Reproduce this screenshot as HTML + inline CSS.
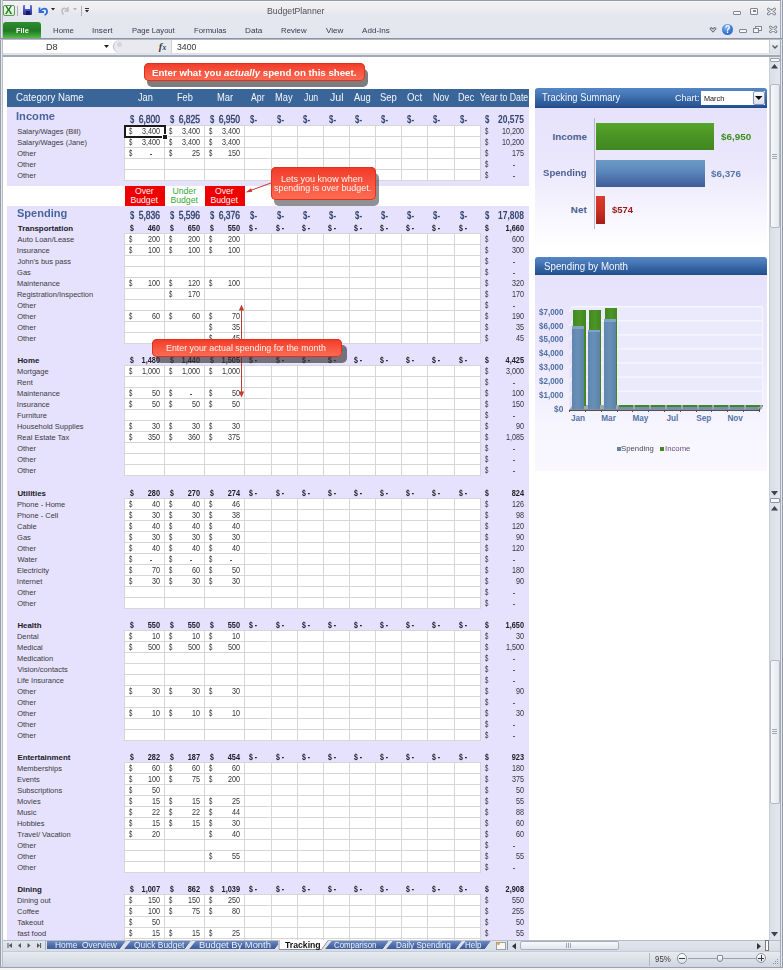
<!DOCTYPE html>
<html><head><meta charset="utf-8"><title>BudgetPlanner</title>
<style>
html,body{margin:0;padding:0;}
body{width:783px;height:970px;position:relative;overflow:hidden;font-family:"Liberation Sans",sans-serif;background:#fff;}
.a{position:absolute;box-sizing:border-box;}
.t{position:absolute;width:300px;white-space:nowrap;}
svg{overflow:visible;}
</style></head><body>
<div class="a" style="left:0.0px;top:0.0px;width:783.0px;height:970.0px;background:#dde2ea;"></div>
<div class="a" style="left:0.0px;top:0.0px;width:783.0px;height:38.0px;background:linear-gradient(#f1f1f3 0px,#eeedf0 9px,#e9e9ee 12px,#e5e7ef 15px,#e4e6ef 38px);"></div>
<div class="a" style="left:0.0px;top:1.0px;width:783.0px;height:1.0px;background:#f8f8fa;"></div>
<div class="a" style="left:0.0px;top:0.0px;width:783.0px;height:1.0px;background:#969ca7;"></div>
<div class="a" style="left:0.0px;top:0.0px;width:1.0px;height:970.0px;background:#959ca7;"></div>
<div class="a" style="left:1.0px;top:0.0px;width:1.0px;height:970.0px;background:#e6e9ee;"></div>
<div class="a" style="left:2.0px;top:0.0px;width:1.0px;height:970.0px;background:#b8bec6;"></div>
<div class="a" style="left:780.0px;top:0.0px;width:1.0px;height:970.0px;background:#a3aab5;"></div>
<div class="a" style="left:781.0px;top:0.0px;width:1.0px;height:970.0px;background:#e6e9ee;"></div>
<div class="a" style="left:782.0px;top:0.0px;width:1.0px;height:970.0px;background:#959ca7;"></div>
<div class="a" style="left:0.0px;top:38.0px;width:783.0px;height:1.0px;background:#8e949f;"></div>
<div class="a" style="left:0.0px;top:39.0px;width:783.0px;height:1.0px;background:#b4bac4;"></div>
<div class="a" style="left:3px;top:5px;width:12px;height:11px;border:1px solid #5c9a55;border-radius:2px;background:linear-gradient(#f6fbf3,#d7ead0);"></div>
<div class="t" style="left:5.39px;top:0px;height:21px;line-height:21px;font-size:10.14px;color:#1f7f1f;font-weight:bold;transform:scaleX(1.062);transform-origin:left;">X</div>
<div class="a" style="left:17.0px;top:6.0px;width:1.0px;height:10.0px;background:#a9aeb8;"></div>
<div class="a" style="left:23px;top:5px;width:9px;height:10px;background:linear-gradient(#6a72e0,#2b309a);border-radius:1px;"></div>
<div class="a" style="left:25.0px;top:5.0px;width:5.0px;height:4.0px;background:#eef0ff;"></div>
<div class="a" style="left:25.5px;top:11.0px;width:4.0px;height:4.0px;background:#14175a;"></div>
<svg class="a" style="left:37px;top:5px" width="12" height="11" viewBox="0 0 12 11"><path d="M2.5 2.5 L2.5 7 L7 7" stroke="#2d6cd6" stroke-width="1.8" fill="none"/><path d="M3 6.5 C5 3,9.5 2.5,10 6 C10.3 8,9 9.5,7.5 10" stroke="#2d6cd6" stroke-width="1.8" fill="none"/></svg>
<svg class="a" style="left:51px;top:8px" width="4" height="3"><path d="M0 0 L4 0 L2 2.5 Z" fill="#222"/></svg>
<svg class="a" style="left:60px;top:5px" width="10" height="11" viewBox="0 0 10 11"><path d="M8 2 L8 6 L4.5 6" stroke="#b8bcc6" stroke-width="1.5" fill="none"/><path d="M7.5 5.5 C6.5 2.5,2.5 2.5,2 5.5 C1.8 7.5,2.5 8.5,3.5 9.5" stroke="#b8bcc6" stroke-width="1.5" fill="none"/></svg>
<svg class="a" style="left:73px;top:8px" width="4" height="3"><path d="M0 0 L4 0 L2 2.5 Z" fill="#b0b4bc"/></svg>
<div class="a" style="left:81.0px;top:6.0px;width:1.0px;height:10.0px;background:#a9aeb8;"></div>
<div class="a" style="left:85.0px;top:8.0px;width:4.0px;height:1.0px;background:#333;"></div>
<svg class="a" style="left:85px;top:10px" width="4" height="3"><path d="M0 0 L4 0 L2 2.5 Z" fill="#222"/></svg>
<div class="t" style="left:266.9px;top:3px;height:17px;line-height:17px;font-size:8.41px;color:#50505a;transform:scaleX(1.034);transform-origin:left;">BudgetPlanner</div>
<div class="a" style="left:733px;top:11px;width:8px;height:4px;border:1px solid #80868f;border-radius:1px;background:#f6f7f9;"></div>
<div class="a" style="left:750px;top:8px;width:8px;height:7px;border:1px solid #80868f;border-radius:1px;background:#f6f7f9;"></div>
<div class="a" style="left:752.5px;top:10.0px;width:3.0px;height:2.0px;border:1px solid #80868f;"></div>
<svg class="a" style="left:767px;top:8px" width="9" height="7"><path d="M1.5 1.2 L7.5 5.8 M7.5 1.2 L1.5 5.8" stroke="#7a808b" stroke-width="3" stroke-linecap="round"/><path d="M1.5 1.2 L7.5 5.8 M7.5 1.2 L1.5 5.8" stroke="#f4f5f8" stroke-width="1.1" stroke-linecap="round"/></svg>
<div class="a" style="left:3px;top:22px;width:38px;height:16px;border-radius:3px 3px 0 0;background:linear-gradient(#2f8d31,#1f7a22 55%,#3fa53a 85%,#5cbb45);"></div>
<div class="t" style="left:15.52px;top:24px;height:14px;line-height:14px;font-size:6.9px;color:#f6fff2;font-weight:bold;transform:scaleX(1.079);transform-origin:left;">File</div>
<div class="t" style="left:52.77px;top:23px;height:16px;line-height:16px;font-size:7.7px;color:#3a3a48;transform:scaleX(1.021);transform-origin:left;">Home</div>
<div class="t" style="left:92.16px;top:23px;height:16px;line-height:16px;font-size:7.7px;color:#3a3a48;transform:scaleX(1.064);transform-origin:left;">Insert</div>
<div class="t" style="left:131.89px;top:23px;height:16px;line-height:16px;font-size:7.7px;color:#3a3a48;transform:scaleX(0.989);transform-origin:left;">Page Layout</div>
<div class="t" style="left:193.88px;top:23px;height:16px;line-height:16px;font-size:7.7px;color:#3a3a48;transform:scaleX(1.009);transform-origin:left;">Formulas</div>
<div class="t" style="left:245.15px;top:23px;height:16px;line-height:16px;font-size:7.7px;color:#3a3a48;transform:scaleX(1.062);transform-origin:left;">Data</div>
<div class="t" style="left:280.98px;top:23px;height:16px;line-height:16px;font-size:7.7px;color:#3a3a48;transform:scaleX(1.015);transform-origin:left;">Review</div>
<div class="t" style="left:325.76px;top:23px;height:16px;line-height:16px;font-size:7.7px;color:#3a3a48;transform:scaleX(1.053);transform-origin:left;">View</div>
<div class="t" style="left:362.0px;top:23px;height:16px;line-height:16px;font-size:7.7px;color:#3a3a48;transform:scaleX(1.051);transform-origin:left;">Add-Ins</div>
<svg class="a" style="left:709px;top:27px" width="8" height="6"><path d="M0.8 1.5 L4 5 L7.2 1.5 M0.8 1.5 L2.4 0.6 L4 2 L5.6 0.6 L7.2 1.5" stroke="#6c717c" stroke-width="1.1" fill="none"/></svg>
<div class="a" style="left:722px;top:24px;width:11px;height:11px;border-radius:50%;background:radial-gradient(circle at 40% 30%,#8cbaf2,#3a78d2 55%,#2559b0);"></div>
<div class="t" style="left:724.9px;top:19px;height:21px;line-height:21px;font-size:10.29px;color:#ffffff;font-weight:bold;transform:scaleX(0.857);transform-origin:left;">?</div>
<div class="a" style="left:739px;top:29px;width:8px;height:4px;border:1px solid #80868f;border-radius:1px;background:#f6f7f9;"></div>
<div class="a" style="left:755px;top:26px;width:7px;height:5px;border:1px solid #80868f;background:#f6f7f9;"></div>
<div class="a" style="left:753px;top:28px;width:6px;height:5px;border:1px solid #80868f;background:#f6f7f9;"></div>
<svg class="a" style="left:769px;top:26px" width="8" height="7"><path d="M1.5 1.2 L6.8 5.6 M6.8 1.2 L1.5 5.6" stroke="#7a808b" stroke-width="3" stroke-linecap="round"/><path d="M1.5 1.2 L6.8 5.6 M6.8 1.2 L1.5 5.6" stroke="#f4f5f8" stroke-width="1.1" stroke-linecap="round"/></svg>
<div class="a" style="left:3.0px;top:40.0px;width:777.0px;height:13.0px;background:#ffffff;"></div>
<div class="a" style="left:3.0px;top:53.0px;width:777.0px;height:2.0px;background:#dde0e6;"></div>
<div class="a" style="left:3.0px;top:54.0px;width:777.0px;height:1.0px;background:#e3e5f2;"></div>
<div class="a" style="left:3.0px;top:55.0px;width:777.0px;height:2.0px;background:#a3a9b3;"></div>
<div class="t" style="left:45.77px;top:38px;height:19px;line-height:19px;font-size:9.29px;color:#333;transform:scaleX(0.979);transform-origin:left;">D8</div>
<svg class="a" style="left:104px;top:45px" width="5" height="3"><path d="M0 0 L5 0 L2.5 3 Z" fill="#222"/></svg>
<div class="a" style="left:113px;top:40px;width:59px;height:13px;background:#e8eaf0;border-radius:7px 0 0 7px;border-left:1px solid #b5bac4;"></div>
<div class="a" style="left:117px;top:42px;width:5px;height:5px;border-radius:50%;background:#d3d6de;"></div>
<div class="a" style="left:171.0px;top:40.0px;width:1.0px;height:13.0px;background:#cdd1d8;"></div>
<div class="t" style="left:158.8px;top:36px;height:21px;line-height:21px;font-size:10.5px;color:#3a3a3a;font-weight:bold;font-family:'Liberation Serif',serif;"><i>f</i></div>
<div class="t" style="left:162.6px;top:40px;height:15px;line-height:15px;font-size:7.5px;color:#3a3a3a;font-weight:bold;font-family:'Liberation Serif',serif;"><i>x</i></div>
<div class="t" style="left:176.65px;top:37px;height:20px;line-height:20px;font-size:9.6px;color:#333;transform:scaleX(0.906);transform-origin:left;">3400</div>
<div class="a" style="left:769.0px;top:40.0px;width:11.0px;height:13.0px;background:linear-gradient(#eef0f4,#dce0e7);border-left:1px solid #c5cad3;"></div>
<svg class="a" style="left:772px;top:45px" width="6" height="4"><path d="M0.5 0.5 L3 3 L5.5 0.5" stroke="#555" stroke-width="1.3" fill="none"/></svg>
<div class="a" style="left:3.0px;top:57.0px;width:766.0px;height:883.0px;background:#ffffff;"></div>
<div class="a" style="left:7.0px;top:107.0px;width:522.0px;height:833.0px;background:#e6e2fe;"></div>
<div class="a" style="left:7.0px;top:186.0px;width:522.0px;height:20.0px;background:#ffffff;"></div>
<div class="a" style="left:7.0px;top:89.0px;width:522.0px;height:18.0px;background:#3a6599;"></div>
<div class="t" style="left:15.62px;top:87px;height:21px;line-height:21px;font-size:10.43px;color:#f3f6fb;transform:scaleX(0.928);transform-origin:left;">Category Name</div>
<div class="t" style="left:138.06px;top:86px;height:22px;line-height:22px;font-size:10.58px;color:#f3f6fb;transform:scaleX(0.865);transform-origin:left;">Jan</div>
<div class="t" style="left:176.96px;top:87px;height:21px;line-height:21px;font-size:10.07px;color:#f3f6fb;transform:scaleX(0.912);transform-origin:left;">Feb</div>
<div class="t" style="left:217.15px;top:86px;height:22px;line-height:22px;font-size:10.58px;color:#f3f6fb;transform:scaleX(0.890);transform-origin:left;">Mar</div>
<div class="t" style="left:251.4px;top:86px;height:22px;line-height:22px;font-size:10.58px;color:#f3f6fb;transform:scaleX(0.822);transform-origin:left;">Apr</div>
<div class="t" style="left:274.75px;top:86px;height:22px;line-height:22px;font-size:10.58px;color:#f3f6fb;transform:scaleX(0.883);transform-origin:left;">May</div>
<div class="t" style="left:303.57px;top:86px;height:22px;line-height:22px;font-size:10.58px;color:#f3f6fb;transform:scaleX(0.828);transform-origin:left;">Jun</div>
<div class="t" style="left:329.84px;top:87px;height:21px;line-height:21px;font-size:10.07px;color:#f3f6fb;transform:scaleX(1.055);transform-origin:left;">Jul</div>
<div class="t" style="left:354.2px;top:86px;height:22px;line-height:22px;font-size:10.58px;color:#f3f6fb;transform:scaleX(0.887);transform-origin:left;">Aug</div>
<div class="t" style="left:380.17px;top:87px;height:21px;line-height:21px;font-size:10.43px;color:#f3f6fb;transform:scaleX(0.911);transform-origin:left;">Sep</div>
<div class="t" style="left:406.96px;top:87px;height:21px;line-height:21px;font-size:10.43px;color:#f3f6fb;transform:scaleX(0.930);transform-origin:left;">Oct</div>
<div class="t" style="left:432.78px;top:86px;height:22px;line-height:22px;font-size:10.58px;color:#f3f6fb;transform:scaleX(0.853);transform-origin:left;">Nov</div>
<div class="t" style="left:458.47px;top:86px;height:22px;line-height:22px;font-size:10.58px;color:#f3f6fb;transform:scaleX(0.863);transform-origin:left;">Dec</div>
<div class="t" style="left:480.18px;top:86px;height:22px;line-height:22px;font-size:10.58px;color:#f3f6fb;transform:scaleX(0.825);transform-origin:left;">Year to Date</div>
<div class="t" style="left:16.07px;top:105px;height:23px;line-height:23px;font-size:11.45px;color:#4a65a0;font-weight:bold;transform:scaleX(0.975);transform-origin:left;">Income</div>
<div class="t" style="left:129.68px;top:108px;height:22px;line-height:22px;font-size:10.8px;color:#34466f;font-weight:bold;transform:scaleX(0.720);transform-origin:left;">$</div>
<div class="t" style="left:-140.28px;top:109px;height:21px;line-height:21px;font-size:10.4px;color:#34466f;text-align:right;transform:scaleX(0.820);transform-origin:right;-webkit-text-stroke:0.45px #34466f;">6,800</div>
<div class="t" style="left:169.68px;top:108px;height:22px;line-height:22px;font-size:10.8px;color:#34466f;font-weight:bold;transform:scaleX(0.720);transform-origin:left;">$</div>
<div class="t" style="left:-100.24px;top:109px;height:21px;line-height:21px;font-size:10.4px;color:#34466f;text-align:right;transform:scaleX(0.820);transform-origin:right;-webkit-text-stroke:0.45px #34466f;">6,825</div>
<div class="t" style="left:209.68px;top:108px;height:22px;line-height:22px;font-size:10.8px;color:#34466f;font-weight:bold;transform:scaleX(0.720);transform-origin:left;">$</div>
<div class="t" style="left:-60.28px;top:109px;height:21px;line-height:21px;font-size:10.4px;color:#34466f;text-align:right;transform:scaleX(0.820);transform-origin:right;-webkit-text-stroke:0.45px #34466f;">6,950</div>
<div class="t" style="left:249.68px;top:109px;height:21px;line-height:21px;font-size:10.5px;color:#34466f;font-weight:bold;transform:scaleX(0.750);transform-origin:left;">$-</div>
<div class="t" style="left:276.68px;top:109px;height:21px;line-height:21px;font-size:10.5px;color:#34466f;font-weight:bold;transform:scaleX(0.750);transform-origin:left;">$-</div>
<div class="t" style="left:302.68px;top:109px;height:21px;line-height:21px;font-size:10.5px;color:#34466f;font-weight:bold;transform:scaleX(0.750);transform-origin:left;">$-</div>
<div class="t" style="left:328.68px;top:109px;height:21px;line-height:21px;font-size:10.5px;color:#34466f;font-weight:bold;transform:scaleX(0.750);transform-origin:left;">$-</div>
<div class="t" style="left:354.68px;top:109px;height:21px;line-height:21px;font-size:10.5px;color:#34466f;font-weight:bold;transform:scaleX(0.750);transform-origin:left;">$-</div>
<div class="t" style="left:380.68px;top:109px;height:21px;line-height:21px;font-size:10.5px;color:#34466f;font-weight:bold;transform:scaleX(0.750);transform-origin:left;">$-</div>
<div class="t" style="left:406.68px;top:109px;height:21px;line-height:21px;font-size:10.5px;color:#34466f;font-weight:bold;transform:scaleX(0.750);transform-origin:left;">$-</div>
<div class="t" style="left:432.68px;top:109px;height:21px;line-height:21px;font-size:10.5px;color:#34466f;font-weight:bold;transform:scaleX(0.750);transform-origin:left;">$-</div>
<div class="t" style="left:459.68px;top:109px;height:21px;line-height:21px;font-size:10.5px;color:#34466f;font-weight:bold;transform:scaleX(0.750);transform-origin:left;">$-</div>
<div class="t" style="left:484.88px;top:109px;height:21px;line-height:21px;font-size:10.5px;color:#34466f;font-weight:bold;transform:scaleX(0.750);transform-origin:left;">$</div>
<div class="t" style="left:224.0px;top:108px;height:22px;line-height:22px;font-size:10.6px;color:#34466f;font-weight:bold;text-align:right;transform:scaleX(0.800);transform-origin:right;">20,575</div>
<div class="a" style="left:124.0px;top:125.0px;width:357.0px;height:56.0px;background:#ffffff;"></div>
<div class="a" style="left:124.0px;top:125.0px;width:357.0px;height:1.0px;background:#d6d6d6;"></div>
<div class="a" style="left:124.0px;top:136.0px;width:357.0px;height:1.0px;background:#d6d6d6;"></div>
<div class="a" style="left:124.0px;top:147.0px;width:357.0px;height:1.0px;background:#d6d6d6;"></div>
<div class="a" style="left:124.0px;top:158.0px;width:357.0px;height:1.0px;background:#d6d6d6;"></div>
<div class="a" style="left:124.0px;top:169.0px;width:357.0px;height:1.0px;background:#d6d6d6;"></div>
<div class="a" style="left:124.0px;top:180.0px;width:357.0px;height:1.0px;background:#d6d6d6;"></div>
<div class="a" style="left:124.0px;top:125.0px;width:1.0px;height:56.0px;background:#d6d6d6;"></div>
<div class="a" style="left:164.0px;top:125.0px;width:1.0px;height:56.0px;background:#d6d6d6;"></div>
<div class="a" style="left:204.0px;top:125.0px;width:1.0px;height:56.0px;background:#d6d6d6;"></div>
<div class="a" style="left:244.0px;top:125.0px;width:1.0px;height:56.0px;background:#d6d6d6;"></div>
<div class="a" style="left:271.0px;top:125.0px;width:1.0px;height:56.0px;background:#d6d6d6;"></div>
<div class="a" style="left:297.0px;top:125.0px;width:1.0px;height:56.0px;background:#d6d6d6;"></div>
<div class="a" style="left:323.0px;top:125.0px;width:1.0px;height:56.0px;background:#d6d6d6;"></div>
<div class="a" style="left:349.0px;top:125.0px;width:1.0px;height:56.0px;background:#d6d6d6;"></div>
<div class="a" style="left:375.0px;top:125.0px;width:1.0px;height:56.0px;background:#d6d6d6;"></div>
<div class="a" style="left:401.0px;top:125.0px;width:1.0px;height:56.0px;background:#d6d6d6;"></div>
<div class="a" style="left:427.0px;top:125.0px;width:1.0px;height:56.0px;background:#d6d6d6;"></div>
<div class="a" style="left:454.0px;top:125.0px;width:1.0px;height:56.0px;background:#d6d6d6;"></div>
<div class="a" style="left:480.0px;top:125.0px;width:1.0px;height:56.0px;background:#d6d6d6;"></div>
<div class="t" style="left:17.16px;top:124px;height:15px;line-height:15px;font-size:7.5px;color:#3a3a40;">Salary/Wages (Bill)</div>
<div class="t" style="left:129.44px;top:123px;height:17px;line-height:17px;font-size:8.4px;color:#333338;transform:scaleX(0.720);transform-origin:left;">$</div>
<div class="t" style="left:-139.93px;top:123px;height:17px;line-height:17px;font-size:8.4px;color:#333338;text-align:right;transform:scaleX(0.860);transform-origin:right;">3,400</div>
<div class="t" style="left:169.44px;top:123px;height:17px;line-height:17px;font-size:8.4px;color:#333338;transform:scaleX(0.720);transform-origin:left;">$</div>
<div class="t" style="left:-99.93px;top:123px;height:17px;line-height:17px;font-size:8.4px;color:#333338;text-align:right;transform:scaleX(0.860);transform-origin:right;">3,400</div>
<div class="t" style="left:209.44px;top:123px;height:17px;line-height:17px;font-size:8.4px;color:#333338;transform:scaleX(0.720);transform-origin:left;">$</div>
<div class="t" style="left:-59.93px;top:123px;height:17px;line-height:17px;font-size:8.4px;color:#333338;text-align:right;transform:scaleX(0.860);transform-origin:right;">3,400</div>
<div class="t" style="left:485.44px;top:123px;height:17px;line-height:17px;font-size:8.4px;color:#333338;transform:scaleX(0.720);transform-origin:left;">$</div>
<div class="t" style="left:224.04px;top:123px;height:17px;line-height:17px;font-size:8.4px;color:#333338;text-align:right;transform:scaleX(0.860);transform-origin:right;">10,200</div>
<div class="t" style="left:17.16px;top:135px;height:15px;line-height:15px;font-size:7.5px;color:#3a3a40;">Salary/Wages (Jane)</div>
<div class="t" style="left:129.44px;top:134px;height:17px;line-height:17px;font-size:8.4px;color:#333338;transform:scaleX(0.720);transform-origin:left;">$</div>
<div class="t" style="left:-139.93px;top:134px;height:17px;line-height:17px;font-size:8.4px;color:#333338;text-align:right;transform:scaleX(0.860);transform-origin:right;">3,400</div>
<div class="t" style="left:169.44px;top:134px;height:17px;line-height:17px;font-size:8.4px;color:#333338;transform:scaleX(0.720);transform-origin:left;">$</div>
<div class="t" style="left:-99.93px;top:134px;height:17px;line-height:17px;font-size:8.4px;color:#333338;text-align:right;transform:scaleX(0.860);transform-origin:right;">3,400</div>
<div class="t" style="left:209.44px;top:134px;height:17px;line-height:17px;font-size:8.4px;color:#333338;transform:scaleX(0.720);transform-origin:left;">$</div>
<div class="t" style="left:-59.93px;top:134px;height:17px;line-height:17px;font-size:8.4px;color:#333338;text-align:right;transform:scaleX(0.860);transform-origin:right;">3,400</div>
<div class="t" style="left:485.44px;top:134px;height:17px;line-height:17px;font-size:8.4px;color:#333338;transform:scaleX(0.720);transform-origin:left;">$</div>
<div class="t" style="left:224.04px;top:134px;height:17px;line-height:17px;font-size:8.4px;color:#333338;text-align:right;transform:scaleX(0.860);transform-origin:right;">10,200</div>
<div class="t" style="left:17.16px;top:146px;height:15px;line-height:15px;font-size:7.5px;color:#3a3a40;">Other</div>
<div class="t" style="left:129.44px;top:145px;height:17px;line-height:17px;font-size:8.4px;color:#333338;transform:scaleX(0.720);transform-origin:left;">$</div>
<div class="a" style="left:149.5px;top:153.8px;width:2.6px;height:1.1px;background:#55555c;"></div>
<div class="t" style="left:169.44px;top:145px;height:17px;line-height:17px;font-size:8.4px;color:#333338;transform:scaleX(0.720);transform-origin:left;">$</div>
<div class="t" style="left:-99.89px;top:145px;height:17px;line-height:17px;font-size:8.4px;color:#333338;text-align:right;transform:scaleX(0.860);transform-origin:right;">25</div>
<div class="t" style="left:209.44px;top:145px;height:17px;line-height:17px;font-size:8.4px;color:#333338;transform:scaleX(0.720);transform-origin:left;">$</div>
<div class="t" style="left:-59.92px;top:145px;height:17px;line-height:17px;font-size:8.4px;color:#333338;text-align:right;transform:scaleX(0.860);transform-origin:right;">150</div>
<div class="t" style="left:485.44px;top:145px;height:17px;line-height:17px;font-size:8.4px;color:#333338;transform:scaleX(0.720);transform-origin:left;">$</div>
<div class="t" style="left:224.11px;top:145px;height:17px;line-height:17px;font-size:8.4px;color:#333338;text-align:right;transform:scaleX(0.860);transform-origin:right;">175</div>
<div class="t" style="left:17.16px;top:157px;height:15px;line-height:15px;font-size:7.5px;color:#3a3a40;">Other</div>
<div class="t" style="left:485.44px;top:156px;height:17px;line-height:17px;font-size:8.4px;color:#333338;transform:scaleX(0.720);transform-origin:left;">$</div>
<div class="a" style="left:512.9px;top:164.8px;width:2.6px;height:1.1px;background:#55555c;"></div>
<div class="t" style="left:17.16px;top:168px;height:15px;line-height:15px;font-size:7.5px;color:#3a3a40;">Other</div>
<div class="t" style="left:485.44px;top:167px;height:17px;line-height:17px;font-size:8.4px;color:#333338;transform:scaleX(0.720);transform-origin:left;">$</div>
<div class="a" style="left:512.9px;top:175.8px;width:2.6px;height:1.1px;background:#55555c;"></div>
<div class="a" style="left:125.0px;top:186.0px;width:40.0px;height:20.0px;background:#ee0000;"></div>
<div class="a" style="left:205.0px;top:186.0px;width:40.0px;height:20.0px;background:#ee0000;"></div>
<div class="t" style="left:134.95px;top:182px;height:18px;line-height:18px;font-size:8.7px;color:#fff2f2;">Over</div>
<div class="t" style="left:130.41px;top:191px;height:18px;line-height:18px;font-size:8.7px;color:#fff2f2;">Budget</div>
<div class="t" style="left:172.41px;top:182px;height:18px;line-height:18px;font-size:8.7px;color:#38a838;">Under</div>
<div class="t" style="left:170.41px;top:191px;height:18px;line-height:18px;font-size:8.7px;color:#38a838;">Budget</div>
<div class="t" style="left:214.95px;top:182px;height:18px;line-height:18px;font-size:8.7px;color:#fff2f2;">Over</div>
<div class="t" style="left:210.41px;top:191px;height:18px;line-height:18px;font-size:8.7px;color:#fff2f2;">Budget</div>
<div class="t" style="left:17.37px;top:202px;height:22px;line-height:22px;font-size:10.62px;color:#4a65a0;font-weight:bold;transform:scaleX(1.041);transform-origin:left;">Spending</div>
<div class="t" style="left:129.68px;top:204px;height:22px;line-height:22px;font-size:10.8px;color:#34466f;font-weight:bold;transform:scaleX(0.720);transform-origin:left;">$</div>
<div class="t" style="left:-140.24px;top:205px;height:21px;line-height:21px;font-size:10.4px;color:#34466f;text-align:right;transform:scaleX(0.820);transform-origin:right;-webkit-text-stroke:0.45px #34466f;">5,836</div>
<div class="t" style="left:169.68px;top:204px;height:22px;line-height:22px;font-size:10.8px;color:#34466f;font-weight:bold;transform:scaleX(0.720);transform-origin:left;">$</div>
<div class="t" style="left:-100.24px;top:205px;height:21px;line-height:21px;font-size:10.4px;color:#34466f;text-align:right;transform:scaleX(0.820);transform-origin:right;-webkit-text-stroke:0.45px #34466f;">5,596</div>
<div class="t" style="left:209.68px;top:204px;height:22px;line-height:22px;font-size:10.8px;color:#34466f;font-weight:bold;transform:scaleX(0.720);transform-origin:left;">$</div>
<div class="t" style="left:-60.24px;top:205px;height:21px;line-height:21px;font-size:10.4px;color:#34466f;text-align:right;transform:scaleX(0.820);transform-origin:right;-webkit-text-stroke:0.45px #34466f;">6,376</div>
<div class="t" style="left:249.68px;top:205px;height:21px;line-height:21px;font-size:10.5px;color:#34466f;font-weight:bold;transform:scaleX(0.750);transform-origin:left;">$-</div>
<div class="t" style="left:276.68px;top:205px;height:21px;line-height:21px;font-size:10.5px;color:#34466f;font-weight:bold;transform:scaleX(0.750);transform-origin:left;">$-</div>
<div class="t" style="left:302.68px;top:205px;height:21px;line-height:21px;font-size:10.5px;color:#34466f;font-weight:bold;transform:scaleX(0.750);transform-origin:left;">$-</div>
<div class="t" style="left:328.68px;top:205px;height:21px;line-height:21px;font-size:10.5px;color:#34466f;font-weight:bold;transform:scaleX(0.750);transform-origin:left;">$-</div>
<div class="t" style="left:354.68px;top:205px;height:21px;line-height:21px;font-size:10.5px;color:#34466f;font-weight:bold;transform:scaleX(0.750);transform-origin:left;">$-</div>
<div class="t" style="left:380.68px;top:205px;height:21px;line-height:21px;font-size:10.5px;color:#34466f;font-weight:bold;transform:scaleX(0.750);transform-origin:left;">$-</div>
<div class="t" style="left:406.68px;top:205px;height:21px;line-height:21px;font-size:10.5px;color:#34466f;font-weight:bold;transform:scaleX(0.750);transform-origin:left;">$-</div>
<div class="t" style="left:432.68px;top:205px;height:21px;line-height:21px;font-size:10.5px;color:#34466f;font-weight:bold;transform:scaleX(0.750);transform-origin:left;">$-</div>
<div class="t" style="left:459.68px;top:205px;height:21px;line-height:21px;font-size:10.5px;color:#34466f;font-weight:bold;transform:scaleX(0.750);transform-origin:left;">$-</div>
<div class="t" style="left:484.88px;top:205px;height:21px;line-height:21px;font-size:10.5px;color:#34466f;font-weight:bold;transform:scaleX(0.750);transform-origin:left;">$</div>
<div class="t" style="left:224.04px;top:204px;height:22px;line-height:22px;font-size:10.6px;color:#34466f;font-weight:bold;text-align:right;transform:scaleX(0.800);transform-origin:right;">17,808</div>
<div class="t" style="left:17.82px;top:221px;height:16px;line-height:16px;font-size:7.9px;color:#202028;font-weight:bold;">Transportation</div>
<div class="t" style="left:129.5px;top:220px;height:17px;line-height:17px;font-size:8.4px;color:#202028;font-weight:bold;transform:scaleX(0.820);transform-origin:left;">$</div>
<div class="t" style="left:-140.08px;top:220px;height:17px;line-height:17px;font-size:8.4px;color:#202028;font-weight:bold;text-align:right;transform:scaleX(0.880);transform-origin:right;">460</div>
<div class="t" style="left:169.5px;top:220px;height:17px;line-height:17px;font-size:8.4px;color:#202028;font-weight:bold;transform:scaleX(0.820);transform-origin:left;">$</div>
<div class="t" style="left:-100.08px;top:220px;height:17px;line-height:17px;font-size:8.4px;color:#202028;font-weight:bold;text-align:right;transform:scaleX(0.880);transform-origin:right;">650</div>
<div class="t" style="left:209.5px;top:220px;height:17px;line-height:17px;font-size:8.4px;color:#202028;font-weight:bold;transform:scaleX(0.820);transform-origin:left;">$</div>
<div class="t" style="left:-60.08px;top:220px;height:17px;line-height:17px;font-size:8.4px;color:#202028;font-weight:bold;text-align:right;transform:scaleX(0.880);transform-origin:right;">550</div>
<div class="t" style="left:248.7px;top:220px;height:17px;line-height:17px;font-size:8.2px;color:#202028;font-weight:bold;transform:scaleX(0.850);transform-origin:left;">$ -</div>
<div class="t" style="left:275.7px;top:220px;height:17px;line-height:17px;font-size:8.2px;color:#202028;font-weight:bold;transform:scaleX(0.850);transform-origin:left;">$ -</div>
<div class="t" style="left:301.7px;top:220px;height:17px;line-height:17px;font-size:8.2px;color:#202028;font-weight:bold;transform:scaleX(0.850);transform-origin:left;">$ -</div>
<div class="t" style="left:327.7px;top:220px;height:17px;line-height:17px;font-size:8.2px;color:#202028;font-weight:bold;transform:scaleX(0.850);transform-origin:left;">$ -</div>
<div class="t" style="left:353.7px;top:220px;height:17px;line-height:17px;font-size:8.2px;color:#202028;font-weight:bold;transform:scaleX(0.850);transform-origin:left;">$ -</div>
<div class="t" style="left:379.7px;top:220px;height:17px;line-height:17px;font-size:8.2px;color:#202028;font-weight:bold;transform:scaleX(0.850);transform-origin:left;">$ -</div>
<div class="t" style="left:405.7px;top:220px;height:17px;line-height:17px;font-size:8.2px;color:#202028;font-weight:bold;transform:scaleX(0.850);transform-origin:left;">$ -</div>
<div class="t" style="left:431.7px;top:220px;height:17px;line-height:17px;font-size:8.2px;color:#202028;font-weight:bold;transform:scaleX(0.850);transform-origin:left;">$ -</div>
<div class="t" style="left:458.7px;top:220px;height:17px;line-height:17px;font-size:8.2px;color:#202028;font-weight:bold;transform:scaleX(0.850);transform-origin:left;">$ -</div>
<div class="t" style="left:485.4px;top:220px;height:17px;line-height:17px;font-size:8.4px;color:#202028;font-weight:bold;transform:scaleX(0.820);transform-origin:left;">$</div>
<div class="t" style="left:224.11px;top:220px;height:17px;line-height:17px;font-size:8.4px;color:#202028;font-weight:bold;text-align:right;transform:scaleX(0.880);transform-origin:right;">1,660</div>
<div class="a" style="left:124.0px;top:233.0px;width:357.0px;height:111.0px;background:#ffffff;"></div>
<div class="a" style="left:124.0px;top:233.0px;width:357.0px;height:1.0px;background:#d6d6d6;"></div>
<div class="a" style="left:124.0px;top:244.0px;width:357.0px;height:1.0px;background:#d6d6d6;"></div>
<div class="a" style="left:124.0px;top:255.0px;width:357.0px;height:1.0px;background:#d6d6d6;"></div>
<div class="a" style="left:124.0px;top:266.0px;width:357.0px;height:1.0px;background:#d6d6d6;"></div>
<div class="a" style="left:124.0px;top:277.0px;width:357.0px;height:1.0px;background:#d6d6d6;"></div>
<div class="a" style="left:124.0px;top:288.0px;width:357.0px;height:1.0px;background:#d6d6d6;"></div>
<div class="a" style="left:124.0px;top:299.0px;width:357.0px;height:1.0px;background:#d6d6d6;"></div>
<div class="a" style="left:124.0px;top:310.0px;width:357.0px;height:1.0px;background:#d6d6d6;"></div>
<div class="a" style="left:124.0px;top:321.0px;width:357.0px;height:1.0px;background:#d6d6d6;"></div>
<div class="a" style="left:124.0px;top:332.0px;width:357.0px;height:1.0px;background:#d6d6d6;"></div>
<div class="a" style="left:124.0px;top:343.0px;width:357.0px;height:1.0px;background:#d6d6d6;"></div>
<div class="a" style="left:124.0px;top:233.0px;width:1.0px;height:111.0px;background:#d6d6d6;"></div>
<div class="a" style="left:164.0px;top:233.0px;width:1.0px;height:111.0px;background:#d6d6d6;"></div>
<div class="a" style="left:204.0px;top:233.0px;width:1.0px;height:111.0px;background:#d6d6d6;"></div>
<div class="a" style="left:244.0px;top:233.0px;width:1.0px;height:111.0px;background:#d6d6d6;"></div>
<div class="a" style="left:271.0px;top:233.0px;width:1.0px;height:111.0px;background:#d6d6d6;"></div>
<div class="a" style="left:297.0px;top:233.0px;width:1.0px;height:111.0px;background:#d6d6d6;"></div>
<div class="a" style="left:323.0px;top:233.0px;width:1.0px;height:111.0px;background:#d6d6d6;"></div>
<div class="a" style="left:349.0px;top:233.0px;width:1.0px;height:111.0px;background:#d6d6d6;"></div>
<div class="a" style="left:375.0px;top:233.0px;width:1.0px;height:111.0px;background:#d6d6d6;"></div>
<div class="a" style="left:401.0px;top:233.0px;width:1.0px;height:111.0px;background:#d6d6d6;"></div>
<div class="a" style="left:427.0px;top:233.0px;width:1.0px;height:111.0px;background:#d6d6d6;"></div>
<div class="a" style="left:454.0px;top:233.0px;width:1.0px;height:111.0px;background:#d6d6d6;"></div>
<div class="a" style="left:480.0px;top:233.0px;width:1.0px;height:111.0px;background:#d6d6d6;"></div>
<div class="t" style="left:17.5px;top:232px;height:15px;line-height:15px;font-size:7.5px;color:#3a3a40;">Auto Loan/Lease</div>
<div class="t" style="left:129.44px;top:231px;height:17px;line-height:17px;font-size:8.4px;color:#333338;transform:scaleX(0.720);transform-origin:left;">$</div>
<div class="t" style="left:-139.92px;top:231px;height:17px;line-height:17px;font-size:8.4px;color:#333338;text-align:right;transform:scaleX(0.860);transform-origin:right;">200</div>
<div class="t" style="left:169.44px;top:231px;height:17px;line-height:17px;font-size:8.4px;color:#333338;transform:scaleX(0.720);transform-origin:left;">$</div>
<div class="t" style="left:-99.92px;top:231px;height:17px;line-height:17px;font-size:8.4px;color:#333338;text-align:right;transform:scaleX(0.860);transform-origin:right;">200</div>
<div class="t" style="left:209.44px;top:231px;height:17px;line-height:17px;font-size:8.4px;color:#333338;transform:scaleX(0.720);transform-origin:left;">$</div>
<div class="t" style="left:-59.92px;top:231px;height:17px;line-height:17px;font-size:8.4px;color:#333338;text-align:right;transform:scaleX(0.860);transform-origin:right;">200</div>
<div class="t" style="left:485.44px;top:231px;height:17px;line-height:17px;font-size:8.4px;color:#333338;transform:scaleX(0.720);transform-origin:left;">$</div>
<div class="t" style="left:224.08px;top:231px;height:17px;line-height:17px;font-size:8.4px;color:#333338;text-align:right;transform:scaleX(0.860);transform-origin:right;">600</div>
<div class="t" style="left:16.82px;top:243px;height:15px;line-height:15px;font-size:7.5px;color:#3a3a40;">Insurance</div>
<div class="t" style="left:129.44px;top:242px;height:17px;line-height:17px;font-size:8.4px;color:#333338;transform:scaleX(0.720);transform-origin:left;">$</div>
<div class="t" style="left:-139.92px;top:242px;height:17px;line-height:17px;font-size:8.4px;color:#333338;text-align:right;transform:scaleX(0.860);transform-origin:right;">100</div>
<div class="t" style="left:169.44px;top:242px;height:17px;line-height:17px;font-size:8.4px;color:#333338;transform:scaleX(0.720);transform-origin:left;">$</div>
<div class="t" style="left:-99.92px;top:242px;height:17px;line-height:17px;font-size:8.4px;color:#333338;text-align:right;transform:scaleX(0.860);transform-origin:right;">100</div>
<div class="t" style="left:209.44px;top:242px;height:17px;line-height:17px;font-size:8.4px;color:#333338;transform:scaleX(0.720);transform-origin:left;">$</div>
<div class="t" style="left:-59.92px;top:242px;height:17px;line-height:17px;font-size:8.4px;color:#333338;text-align:right;transform:scaleX(0.860);transform-origin:right;">100</div>
<div class="t" style="left:485.44px;top:242px;height:17px;line-height:17px;font-size:8.4px;color:#333338;transform:scaleX(0.720);transform-origin:left;">$</div>
<div class="t" style="left:224.08px;top:242px;height:17px;line-height:17px;font-size:8.4px;color:#333338;text-align:right;transform:scaleX(0.860);transform-origin:right;">300</div>
<div class="t" style="left:17.39px;top:254px;height:15px;line-height:15px;font-size:7.5px;color:#3a3a40;">John's bus pass</div>
<div class="t" style="left:485.44px;top:253px;height:17px;line-height:17px;font-size:8.4px;color:#333338;transform:scaleX(0.720);transform-origin:left;">$</div>
<div class="a" style="left:512.9px;top:261.8px;width:2.6px;height:1.1px;background:#55555c;"></div>
<div class="t" style="left:17.12px;top:265px;height:15px;line-height:15px;font-size:7.5px;color:#3a3a40;">Gas</div>
<div class="t" style="left:485.44px;top:264px;height:17px;line-height:17px;font-size:8.4px;color:#333338;transform:scaleX(0.720);transform-origin:left;">$</div>
<div class="a" style="left:512.9px;top:272.8px;width:2.6px;height:1.1px;background:#55555c;"></div>
<div class="t" style="left:16.9px;top:276px;height:15px;line-height:15px;font-size:7.5px;color:#3a3a40;">Maintenance</div>
<div class="t" style="left:129.44px;top:275px;height:17px;line-height:17px;font-size:8.4px;color:#333338;transform:scaleX(0.720);transform-origin:left;">$</div>
<div class="t" style="left:-139.92px;top:275px;height:17px;line-height:17px;font-size:8.4px;color:#333338;text-align:right;transform:scaleX(0.860);transform-origin:right;">100</div>
<div class="t" style="left:169.44px;top:275px;height:17px;line-height:17px;font-size:8.4px;color:#333338;transform:scaleX(0.720);transform-origin:left;">$</div>
<div class="t" style="left:-99.92px;top:275px;height:17px;line-height:17px;font-size:8.4px;color:#333338;text-align:right;transform:scaleX(0.860);transform-origin:right;">120</div>
<div class="t" style="left:209.44px;top:275px;height:17px;line-height:17px;font-size:8.4px;color:#333338;transform:scaleX(0.720);transform-origin:left;">$</div>
<div class="t" style="left:-59.92px;top:275px;height:17px;line-height:17px;font-size:8.4px;color:#333338;text-align:right;transform:scaleX(0.860);transform-origin:right;">100</div>
<div class="t" style="left:485.44px;top:275px;height:17px;line-height:17px;font-size:8.4px;color:#333338;transform:scaleX(0.720);transform-origin:left;">$</div>
<div class="t" style="left:224.08px;top:275px;height:17px;line-height:17px;font-size:8.4px;color:#333338;text-align:right;transform:scaleX(0.860);transform-origin:right;">320</div>
<div class="t" style="left:16.9px;top:287px;height:15px;line-height:15px;font-size:7.5px;color:#3a3a40;">Registration/Inspection</div>
<div class="t" style="left:169.44px;top:286px;height:17px;line-height:17px;font-size:8.4px;color:#333338;transform:scaleX(0.720);transform-origin:left;">$</div>
<div class="t" style="left:-99.92px;top:286px;height:17px;line-height:17px;font-size:8.4px;color:#333338;text-align:right;transform:scaleX(0.860);transform-origin:right;">170</div>
<div class="t" style="left:485.44px;top:286px;height:17px;line-height:17px;font-size:8.4px;color:#333338;transform:scaleX(0.720);transform-origin:left;">$</div>
<div class="t" style="left:224.08px;top:286px;height:17px;line-height:17px;font-size:8.4px;color:#333338;text-align:right;transform:scaleX(0.860);transform-origin:right;">170</div>
<div class="t" style="left:17.16px;top:298px;height:15px;line-height:15px;font-size:7.5px;color:#3a3a40;">Other</div>
<div class="t" style="left:485.44px;top:297px;height:17px;line-height:17px;font-size:8.4px;color:#333338;transform:scaleX(0.720);transform-origin:left;">$</div>
<div class="a" style="left:512.9px;top:305.8px;width:2.6px;height:1.1px;background:#55555c;"></div>
<div class="t" style="left:17.16px;top:309px;height:15px;line-height:15px;font-size:7.5px;color:#3a3a40;">Other</div>
<div class="t" style="left:129.44px;top:308px;height:17px;line-height:17px;font-size:8.4px;color:#333338;transform:scaleX(0.720);transform-origin:left;">$</div>
<div class="t" style="left:-139.93px;top:308px;height:17px;line-height:17px;font-size:8.4px;color:#333338;text-align:right;transform:scaleX(0.860);transform-origin:right;">60</div>
<div class="t" style="left:169.44px;top:308px;height:17px;line-height:17px;font-size:8.4px;color:#333338;transform:scaleX(0.720);transform-origin:left;">$</div>
<div class="t" style="left:-99.93px;top:308px;height:17px;line-height:17px;font-size:8.4px;color:#333338;text-align:right;transform:scaleX(0.860);transform-origin:right;">60</div>
<div class="t" style="left:209.44px;top:308px;height:17px;line-height:17px;font-size:8.4px;color:#333338;transform:scaleX(0.720);transform-origin:left;">$</div>
<div class="t" style="left:-59.93px;top:308px;height:17px;line-height:17px;font-size:8.4px;color:#333338;text-align:right;transform:scaleX(0.860);transform-origin:right;">70</div>
<div class="t" style="left:485.44px;top:308px;height:17px;line-height:17px;font-size:8.4px;color:#333338;transform:scaleX(0.720);transform-origin:left;">$</div>
<div class="t" style="left:224.08px;top:308px;height:17px;line-height:17px;font-size:8.4px;color:#333338;text-align:right;transform:scaleX(0.860);transform-origin:right;">190</div>
<div class="t" style="left:17.16px;top:320px;height:15px;line-height:15px;font-size:7.5px;color:#3a3a40;">Other</div>
<div class="t" style="left:209.44px;top:319px;height:17px;line-height:17px;font-size:8.4px;color:#333338;transform:scaleX(0.720);transform-origin:left;">$</div>
<div class="t" style="left:-59.89px;top:319px;height:17px;line-height:17px;font-size:8.4px;color:#333338;text-align:right;transform:scaleX(0.860);transform-origin:right;">35</div>
<div class="t" style="left:485.44px;top:319px;height:17px;line-height:17px;font-size:8.4px;color:#333338;transform:scaleX(0.720);transform-origin:left;">$</div>
<div class="t" style="left:224.11px;top:319px;height:17px;line-height:17px;font-size:8.4px;color:#333338;text-align:right;transform:scaleX(0.860);transform-origin:right;">35</div>
<div class="t" style="left:17.16px;top:331px;height:15px;line-height:15px;font-size:7.5px;color:#3a3a40;">Other</div>
<div class="t" style="left:209.44px;top:330px;height:17px;line-height:17px;font-size:8.4px;color:#333338;transform:scaleX(0.720);transform-origin:left;">$</div>
<div class="t" style="left:-59.89px;top:330px;height:17px;line-height:17px;font-size:8.4px;color:#333338;text-align:right;transform:scaleX(0.860);transform-origin:right;">45</div>
<div class="t" style="left:485.44px;top:330px;height:17px;line-height:17px;font-size:8.4px;color:#333338;transform:scaleX(0.720);transform-origin:left;">$</div>
<div class="t" style="left:224.11px;top:330px;height:17px;line-height:17px;font-size:8.4px;color:#333338;text-align:right;transform:scaleX(0.860);transform-origin:right;">45</div>
<div class="t" style="left:17.39px;top:353px;height:16px;line-height:16px;font-size:7.9px;color:#202028;font-weight:bold;">Home</div>
<div class="t" style="left:129.5px;top:352px;height:17px;line-height:17px;font-size:8.4px;color:#202028;font-weight:bold;transform:scaleX(0.820);transform-origin:left;">$</div>
<div class="t" style="left:-140.09px;top:352px;height:17px;line-height:17px;font-size:8.4px;color:#202028;font-weight:bold;text-align:right;transform:scaleX(0.880);transform-origin:right;">1,480</div>
<div class="t" style="left:169.5px;top:352px;height:17px;line-height:17px;font-size:8.4px;color:#202028;font-weight:bold;transform:scaleX(0.820);transform-origin:left;">$</div>
<div class="t" style="left:-100.09px;top:352px;height:17px;line-height:17px;font-size:8.4px;color:#202028;font-weight:bold;text-align:right;transform:scaleX(0.880);transform-origin:right;">1,440</div>
<div class="t" style="left:209.5px;top:352px;height:17px;line-height:17px;font-size:8.4px;color:#202028;font-weight:bold;transform:scaleX(0.820);transform-origin:left;">$</div>
<div class="t" style="left:-60.2px;top:352px;height:17px;line-height:17px;font-size:8.4px;color:#202028;font-weight:bold;text-align:right;transform:scaleX(0.880);transform-origin:right;">1,505</div>
<div class="t" style="left:248.7px;top:352px;height:17px;line-height:17px;font-size:8.2px;color:#202028;font-weight:bold;transform:scaleX(0.850);transform-origin:left;">$ -</div>
<div class="t" style="left:275.7px;top:352px;height:17px;line-height:17px;font-size:8.2px;color:#202028;font-weight:bold;transform:scaleX(0.850);transform-origin:left;">$ -</div>
<div class="t" style="left:301.7px;top:352px;height:17px;line-height:17px;font-size:8.2px;color:#202028;font-weight:bold;transform:scaleX(0.850);transform-origin:left;">$ -</div>
<div class="t" style="left:327.7px;top:352px;height:17px;line-height:17px;font-size:8.2px;color:#202028;font-weight:bold;transform:scaleX(0.850);transform-origin:left;">$ -</div>
<div class="t" style="left:353.7px;top:352px;height:17px;line-height:17px;font-size:8.2px;color:#202028;font-weight:bold;transform:scaleX(0.850);transform-origin:left;">$ -</div>
<div class="t" style="left:379.7px;top:352px;height:17px;line-height:17px;font-size:8.2px;color:#202028;font-weight:bold;transform:scaleX(0.850);transform-origin:left;">$ -</div>
<div class="t" style="left:405.7px;top:352px;height:17px;line-height:17px;font-size:8.2px;color:#202028;font-weight:bold;transform:scaleX(0.850);transform-origin:left;">$ -</div>
<div class="t" style="left:431.7px;top:352px;height:17px;line-height:17px;font-size:8.2px;color:#202028;font-weight:bold;transform:scaleX(0.850);transform-origin:left;">$ -</div>
<div class="t" style="left:458.7px;top:352px;height:17px;line-height:17px;font-size:8.2px;color:#202028;font-weight:bold;transform:scaleX(0.850);transform-origin:left;">$ -</div>
<div class="t" style="left:485.4px;top:352px;height:17px;line-height:17px;font-size:8.4px;color:#202028;font-weight:bold;transform:scaleX(0.820);transform-origin:left;">$</div>
<div class="t" style="left:224.0px;top:352px;height:17px;line-height:17px;font-size:8.4px;color:#202028;font-weight:bold;text-align:right;transform:scaleX(0.880);transform-origin:right;">4,425</div>
<div class="a" style="left:124.0px;top:365.0px;width:357.0px;height:111.0px;background:#ffffff;"></div>
<div class="a" style="left:124.0px;top:365.0px;width:357.0px;height:1.0px;background:#d6d6d6;"></div>
<div class="a" style="left:124.0px;top:376.0px;width:357.0px;height:1.0px;background:#d6d6d6;"></div>
<div class="a" style="left:124.0px;top:387.0px;width:357.0px;height:1.0px;background:#d6d6d6;"></div>
<div class="a" style="left:124.0px;top:398.0px;width:357.0px;height:1.0px;background:#d6d6d6;"></div>
<div class="a" style="left:124.0px;top:409.0px;width:357.0px;height:1.0px;background:#d6d6d6;"></div>
<div class="a" style="left:124.0px;top:420.0px;width:357.0px;height:1.0px;background:#d6d6d6;"></div>
<div class="a" style="left:124.0px;top:431.0px;width:357.0px;height:1.0px;background:#d6d6d6;"></div>
<div class="a" style="left:124.0px;top:442.0px;width:357.0px;height:1.0px;background:#d6d6d6;"></div>
<div class="a" style="left:124.0px;top:453.0px;width:357.0px;height:1.0px;background:#d6d6d6;"></div>
<div class="a" style="left:124.0px;top:464.0px;width:357.0px;height:1.0px;background:#d6d6d6;"></div>
<div class="a" style="left:124.0px;top:475.0px;width:357.0px;height:1.0px;background:#d6d6d6;"></div>
<div class="a" style="left:124.0px;top:365.0px;width:1.0px;height:111.0px;background:#d6d6d6;"></div>
<div class="a" style="left:164.0px;top:365.0px;width:1.0px;height:111.0px;background:#d6d6d6;"></div>
<div class="a" style="left:204.0px;top:365.0px;width:1.0px;height:111.0px;background:#d6d6d6;"></div>
<div class="a" style="left:244.0px;top:365.0px;width:1.0px;height:111.0px;background:#d6d6d6;"></div>
<div class="a" style="left:271.0px;top:365.0px;width:1.0px;height:111.0px;background:#d6d6d6;"></div>
<div class="a" style="left:297.0px;top:365.0px;width:1.0px;height:111.0px;background:#d6d6d6;"></div>
<div class="a" style="left:323.0px;top:365.0px;width:1.0px;height:111.0px;background:#d6d6d6;"></div>
<div class="a" style="left:349.0px;top:365.0px;width:1.0px;height:111.0px;background:#d6d6d6;"></div>
<div class="a" style="left:375.0px;top:365.0px;width:1.0px;height:111.0px;background:#d6d6d6;"></div>
<div class="a" style="left:401.0px;top:365.0px;width:1.0px;height:111.0px;background:#d6d6d6;"></div>
<div class="a" style="left:427.0px;top:365.0px;width:1.0px;height:111.0px;background:#d6d6d6;"></div>
<div class="a" style="left:454.0px;top:365.0px;width:1.0px;height:111.0px;background:#d6d6d6;"></div>
<div class="a" style="left:480.0px;top:365.0px;width:1.0px;height:111.0px;background:#d6d6d6;"></div>
<div class="t" style="left:16.9px;top:364px;height:15px;line-height:15px;font-size:7.5px;color:#3a3a40;">Mortgage</div>
<div class="t" style="left:129.44px;top:363px;height:17px;line-height:17px;font-size:8.4px;color:#333338;transform:scaleX(0.720);transform-origin:left;">$</div>
<div class="t" style="left:-139.93px;top:363px;height:17px;line-height:17px;font-size:8.4px;color:#333338;text-align:right;transform:scaleX(0.860);transform-origin:right;">1,000</div>
<div class="t" style="left:169.44px;top:363px;height:17px;line-height:17px;font-size:8.4px;color:#333338;transform:scaleX(0.720);transform-origin:left;">$</div>
<div class="t" style="left:-99.93px;top:363px;height:17px;line-height:17px;font-size:8.4px;color:#333338;text-align:right;transform:scaleX(0.860);transform-origin:right;">1,000</div>
<div class="t" style="left:209.44px;top:363px;height:17px;line-height:17px;font-size:8.4px;color:#333338;transform:scaleX(0.720);transform-origin:left;">$</div>
<div class="t" style="left:-59.93px;top:363px;height:17px;line-height:17px;font-size:8.4px;color:#333338;text-align:right;transform:scaleX(0.860);transform-origin:right;">1,000</div>
<div class="t" style="left:485.44px;top:363px;height:17px;line-height:17px;font-size:8.4px;color:#333338;transform:scaleX(0.720);transform-origin:left;">$</div>
<div class="t" style="left:224.07px;top:363px;height:17px;line-height:17px;font-size:8.4px;color:#333338;text-align:right;transform:scaleX(0.860);transform-origin:right;">3,000</div>
<div class="t" style="left:16.9px;top:375px;height:15px;line-height:15px;font-size:7.5px;color:#3a3a40;">Rent</div>
<div class="t" style="left:485.44px;top:374px;height:17px;line-height:17px;font-size:8.4px;color:#333338;transform:scaleX(0.720);transform-origin:left;">$</div>
<div class="a" style="left:512.9px;top:382.8px;width:2.6px;height:1.1px;background:#55555c;"></div>
<div class="t" style="left:16.9px;top:386px;height:15px;line-height:15px;font-size:7.5px;color:#3a3a40;">Maintenance</div>
<div class="t" style="left:129.44px;top:385px;height:17px;line-height:17px;font-size:8.4px;color:#333338;transform:scaleX(0.720);transform-origin:left;">$</div>
<div class="t" style="left:-139.93px;top:385px;height:17px;line-height:17px;font-size:8.4px;color:#333338;text-align:right;transform:scaleX(0.860);transform-origin:right;">50</div>
<div class="t" style="left:169.44px;top:385px;height:17px;line-height:17px;font-size:8.4px;color:#333338;transform:scaleX(0.720);transform-origin:left;">$</div>
<div class="a" style="left:189.5px;top:393.8px;width:2.6px;height:1.1px;background:#55555c;"></div>
<div class="t" style="left:209.44px;top:385px;height:17px;line-height:17px;font-size:8.4px;color:#333338;transform:scaleX(0.720);transform-origin:left;">$</div>
<div class="t" style="left:-59.93px;top:385px;height:17px;line-height:17px;font-size:8.4px;color:#333338;text-align:right;transform:scaleX(0.860);transform-origin:right;">50</div>
<div class="t" style="left:485.44px;top:385px;height:17px;line-height:17px;font-size:8.4px;color:#333338;transform:scaleX(0.720);transform-origin:left;">$</div>
<div class="t" style="left:224.08px;top:385px;height:17px;line-height:17px;font-size:8.4px;color:#333338;text-align:right;transform:scaleX(0.860);transform-origin:right;">100</div>
<div class="t" style="left:16.82px;top:397px;height:15px;line-height:15px;font-size:7.5px;color:#3a3a40;">Insurance</div>
<div class="t" style="left:129.44px;top:396px;height:17px;line-height:17px;font-size:8.4px;color:#333338;transform:scaleX(0.720);transform-origin:left;">$</div>
<div class="t" style="left:-139.93px;top:396px;height:17px;line-height:17px;font-size:8.4px;color:#333338;text-align:right;transform:scaleX(0.860);transform-origin:right;">50</div>
<div class="t" style="left:169.44px;top:396px;height:17px;line-height:17px;font-size:8.4px;color:#333338;transform:scaleX(0.720);transform-origin:left;">$</div>
<div class="t" style="left:-99.93px;top:396px;height:17px;line-height:17px;font-size:8.4px;color:#333338;text-align:right;transform:scaleX(0.860);transform-origin:right;">50</div>
<div class="t" style="left:209.44px;top:396px;height:17px;line-height:17px;font-size:8.4px;color:#333338;transform:scaleX(0.720);transform-origin:left;">$</div>
<div class="t" style="left:-59.93px;top:396px;height:17px;line-height:17px;font-size:8.4px;color:#333338;text-align:right;transform:scaleX(0.860);transform-origin:right;">50</div>
<div class="t" style="left:485.44px;top:396px;height:17px;line-height:17px;font-size:8.4px;color:#333338;transform:scaleX(0.720);transform-origin:left;">$</div>
<div class="t" style="left:224.08px;top:396px;height:17px;line-height:17px;font-size:8.4px;color:#333338;text-align:right;transform:scaleX(0.860);transform-origin:right;">150</div>
<div class="t" style="left:16.9px;top:408px;height:15px;line-height:15px;font-size:7.5px;color:#3a3a40;">Furniture</div>
<div class="t" style="left:485.44px;top:407px;height:17px;line-height:17px;font-size:8.4px;color:#333338;transform:scaleX(0.720);transform-origin:left;">$</div>
<div class="a" style="left:512.9px;top:415.8px;width:2.6px;height:1.1px;background:#55555c;"></div>
<div class="t" style="left:16.9px;top:419px;height:15px;line-height:15px;font-size:7.5px;color:#3a3a40;">Household Supplies</div>
<div class="t" style="left:129.44px;top:418px;height:17px;line-height:17px;font-size:8.4px;color:#333338;transform:scaleX(0.720);transform-origin:left;">$</div>
<div class="t" style="left:-139.93px;top:418px;height:17px;line-height:17px;font-size:8.4px;color:#333338;text-align:right;transform:scaleX(0.860);transform-origin:right;">30</div>
<div class="t" style="left:169.44px;top:418px;height:17px;line-height:17px;font-size:8.4px;color:#333338;transform:scaleX(0.720);transform-origin:left;">$</div>
<div class="t" style="left:-99.93px;top:418px;height:17px;line-height:17px;font-size:8.4px;color:#333338;text-align:right;transform:scaleX(0.860);transform-origin:right;">30</div>
<div class="t" style="left:209.44px;top:418px;height:17px;line-height:17px;font-size:8.4px;color:#333338;transform:scaleX(0.720);transform-origin:left;">$</div>
<div class="t" style="left:-59.93px;top:418px;height:17px;line-height:17px;font-size:8.4px;color:#333338;text-align:right;transform:scaleX(0.860);transform-origin:right;">30</div>
<div class="t" style="left:485.44px;top:418px;height:17px;line-height:17px;font-size:8.4px;color:#333338;transform:scaleX(0.720);transform-origin:left;">$</div>
<div class="t" style="left:224.07px;top:418px;height:17px;line-height:17px;font-size:8.4px;color:#333338;text-align:right;transform:scaleX(0.860);transform-origin:right;">90</div>
<div class="t" style="left:16.9px;top:430px;height:15px;line-height:15px;font-size:7.5px;color:#3a3a40;">Real Estate Tax</div>
<div class="t" style="left:129.44px;top:429px;height:17px;line-height:17px;font-size:8.4px;color:#333338;transform:scaleX(0.720);transform-origin:left;">$</div>
<div class="t" style="left:-139.92px;top:429px;height:17px;line-height:17px;font-size:8.4px;color:#333338;text-align:right;transform:scaleX(0.860);transform-origin:right;">350</div>
<div class="t" style="left:169.44px;top:429px;height:17px;line-height:17px;font-size:8.4px;color:#333338;transform:scaleX(0.720);transform-origin:left;">$</div>
<div class="t" style="left:-99.92px;top:429px;height:17px;line-height:17px;font-size:8.4px;color:#333338;text-align:right;transform:scaleX(0.860);transform-origin:right;">360</div>
<div class="t" style="left:209.44px;top:429px;height:17px;line-height:17px;font-size:8.4px;color:#333338;transform:scaleX(0.720);transform-origin:left;">$</div>
<div class="t" style="left:-59.89px;top:429px;height:17px;line-height:17px;font-size:8.4px;color:#333338;text-align:right;transform:scaleX(0.860);transform-origin:right;">375</div>
<div class="t" style="left:485.44px;top:429px;height:17px;line-height:17px;font-size:8.4px;color:#333338;transform:scaleX(0.720);transform-origin:left;">$</div>
<div class="t" style="left:224.11px;top:429px;height:17px;line-height:17px;font-size:8.4px;color:#333338;text-align:right;transform:scaleX(0.860);transform-origin:right;">1,085</div>
<div class="t" style="left:17.16px;top:441px;height:15px;line-height:15px;font-size:7.5px;color:#3a3a40;">Other</div>
<div class="t" style="left:485.44px;top:440px;height:17px;line-height:17px;font-size:8.4px;color:#333338;transform:scaleX(0.720);transform-origin:left;">$</div>
<div class="a" style="left:512.9px;top:448.8px;width:2.6px;height:1.1px;background:#55555c;"></div>
<div class="t" style="left:17.16px;top:452px;height:15px;line-height:15px;font-size:7.5px;color:#3a3a40;">Other</div>
<div class="t" style="left:485.44px;top:451px;height:17px;line-height:17px;font-size:8.4px;color:#333338;transform:scaleX(0.720);transform-origin:left;">$</div>
<div class="a" style="left:512.9px;top:459.8px;width:2.6px;height:1.1px;background:#55555c;"></div>
<div class="t" style="left:17.16px;top:463px;height:15px;line-height:15px;font-size:7.5px;color:#3a3a40;">Other</div>
<div class="t" style="left:485.44px;top:462px;height:17px;line-height:17px;font-size:8.4px;color:#333338;transform:scaleX(0.720);transform-origin:left;">$</div>
<div class="a" style="left:512.9px;top:470.8px;width:2.6px;height:1.1px;background:#55555c;"></div>
<div class="t" style="left:17.43px;top:486px;height:16px;line-height:16px;font-size:7.9px;color:#202028;font-weight:bold;">Utilities</div>
<div class="t" style="left:129.5px;top:485px;height:17px;line-height:17px;font-size:8.4px;color:#202028;font-weight:bold;transform:scaleX(0.820);transform-origin:left;">$</div>
<div class="t" style="left:-140.08px;top:485px;height:17px;line-height:17px;font-size:8.4px;color:#202028;font-weight:bold;text-align:right;transform:scaleX(0.880);transform-origin:right;">280</div>
<div class="t" style="left:169.5px;top:485px;height:17px;line-height:17px;font-size:8.4px;color:#202028;font-weight:bold;transform:scaleX(0.820);transform-origin:left;">$</div>
<div class="t" style="left:-100.08px;top:485px;height:17px;line-height:17px;font-size:8.4px;color:#202028;font-weight:bold;text-align:right;transform:scaleX(0.880);transform-origin:right;">270</div>
<div class="t" style="left:209.5px;top:485px;height:17px;line-height:17px;font-size:8.4px;color:#202028;font-weight:bold;transform:scaleX(0.820);transform-origin:left;">$</div>
<div class="t" style="left:-60.34px;top:485px;height:17px;line-height:17px;font-size:8.4px;color:#202028;font-weight:bold;text-align:right;transform:scaleX(0.880);transform-origin:right;">274</div>
<div class="t" style="left:248.7px;top:485px;height:17px;line-height:17px;font-size:8.2px;color:#202028;font-weight:bold;transform:scaleX(0.850);transform-origin:left;">$ -</div>
<div class="t" style="left:275.7px;top:485px;height:17px;line-height:17px;font-size:8.2px;color:#202028;font-weight:bold;transform:scaleX(0.850);transform-origin:left;">$ -</div>
<div class="t" style="left:301.7px;top:485px;height:17px;line-height:17px;font-size:8.2px;color:#202028;font-weight:bold;transform:scaleX(0.850);transform-origin:left;">$ -</div>
<div class="t" style="left:327.7px;top:485px;height:17px;line-height:17px;font-size:8.2px;color:#202028;font-weight:bold;transform:scaleX(0.850);transform-origin:left;">$ -</div>
<div class="t" style="left:353.7px;top:485px;height:17px;line-height:17px;font-size:8.2px;color:#202028;font-weight:bold;transform:scaleX(0.850);transform-origin:left;">$ -</div>
<div class="t" style="left:379.7px;top:485px;height:17px;line-height:17px;font-size:8.2px;color:#202028;font-weight:bold;transform:scaleX(0.850);transform-origin:left;">$ -</div>
<div class="t" style="left:405.7px;top:485px;height:17px;line-height:17px;font-size:8.2px;color:#202028;font-weight:bold;transform:scaleX(0.850);transform-origin:left;">$ -</div>
<div class="t" style="left:431.7px;top:485px;height:17px;line-height:17px;font-size:8.2px;color:#202028;font-weight:bold;transform:scaleX(0.850);transform-origin:left;">$ -</div>
<div class="t" style="left:458.7px;top:485px;height:17px;line-height:17px;font-size:8.2px;color:#202028;font-weight:bold;transform:scaleX(0.850);transform-origin:left;">$ -</div>
<div class="t" style="left:485.4px;top:485px;height:17px;line-height:17px;font-size:8.4px;color:#202028;font-weight:bold;transform:scaleX(0.820);transform-origin:left;">$</div>
<div class="t" style="left:223.86px;top:485px;height:17px;line-height:17px;font-size:8.4px;color:#202028;font-weight:bold;text-align:right;transform:scaleX(0.880);transform-origin:right;">824</div>
<div class="a" style="left:124.0px;top:498.0px;width:357.0px;height:111.0px;background:#ffffff;"></div>
<div class="a" style="left:124.0px;top:498.0px;width:357.0px;height:1.0px;background:#d6d6d6;"></div>
<div class="a" style="left:124.0px;top:509.0px;width:357.0px;height:1.0px;background:#d6d6d6;"></div>
<div class="a" style="left:124.0px;top:520.0px;width:357.0px;height:1.0px;background:#d6d6d6;"></div>
<div class="a" style="left:124.0px;top:531.0px;width:357.0px;height:1.0px;background:#d6d6d6;"></div>
<div class="a" style="left:124.0px;top:542.0px;width:357.0px;height:1.0px;background:#d6d6d6;"></div>
<div class="a" style="left:124.0px;top:553.0px;width:357.0px;height:1.0px;background:#d6d6d6;"></div>
<div class="a" style="left:124.0px;top:564.0px;width:357.0px;height:1.0px;background:#d6d6d6;"></div>
<div class="a" style="left:124.0px;top:575.0px;width:357.0px;height:1.0px;background:#d6d6d6;"></div>
<div class="a" style="left:124.0px;top:586.0px;width:357.0px;height:1.0px;background:#d6d6d6;"></div>
<div class="a" style="left:124.0px;top:597.0px;width:357.0px;height:1.0px;background:#d6d6d6;"></div>
<div class="a" style="left:124.0px;top:608.0px;width:357.0px;height:1.0px;background:#d6d6d6;"></div>
<div class="a" style="left:124.0px;top:498.0px;width:1.0px;height:111.0px;background:#d6d6d6;"></div>
<div class="a" style="left:164.0px;top:498.0px;width:1.0px;height:111.0px;background:#d6d6d6;"></div>
<div class="a" style="left:204.0px;top:498.0px;width:1.0px;height:111.0px;background:#d6d6d6;"></div>
<div class="a" style="left:244.0px;top:498.0px;width:1.0px;height:111.0px;background:#d6d6d6;"></div>
<div class="a" style="left:271.0px;top:498.0px;width:1.0px;height:111.0px;background:#d6d6d6;"></div>
<div class="a" style="left:297.0px;top:498.0px;width:1.0px;height:111.0px;background:#d6d6d6;"></div>
<div class="a" style="left:323.0px;top:498.0px;width:1.0px;height:111.0px;background:#d6d6d6;"></div>
<div class="a" style="left:349.0px;top:498.0px;width:1.0px;height:111.0px;background:#d6d6d6;"></div>
<div class="a" style="left:375.0px;top:498.0px;width:1.0px;height:111.0px;background:#d6d6d6;"></div>
<div class="a" style="left:401.0px;top:498.0px;width:1.0px;height:111.0px;background:#d6d6d6;"></div>
<div class="a" style="left:427.0px;top:498.0px;width:1.0px;height:111.0px;background:#d6d6d6;"></div>
<div class="a" style="left:454.0px;top:498.0px;width:1.0px;height:111.0px;background:#d6d6d6;"></div>
<div class="a" style="left:480.0px;top:498.0px;width:1.0px;height:111.0px;background:#d6d6d6;"></div>
<div class="t" style="left:16.9px;top:497px;height:15px;line-height:15px;font-size:7.5px;color:#3a3a40;">Phone - Home</div>
<div class="t" style="left:129.44px;top:496px;height:17px;line-height:17px;font-size:8.4px;color:#333338;transform:scaleX(0.720);transform-origin:left;">$</div>
<div class="t" style="left:-139.93px;top:496px;height:17px;line-height:17px;font-size:8.4px;color:#333338;text-align:right;transform:scaleX(0.860);transform-origin:right;">40</div>
<div class="t" style="left:169.44px;top:496px;height:17px;line-height:17px;font-size:8.4px;color:#333338;transform:scaleX(0.720);transform-origin:left;">$</div>
<div class="t" style="left:-99.93px;top:496px;height:17px;line-height:17px;font-size:8.4px;color:#333338;text-align:right;transform:scaleX(0.860);transform-origin:right;">40</div>
<div class="t" style="left:209.44px;top:496px;height:17px;line-height:17px;font-size:8.4px;color:#333338;transform:scaleX(0.720);transform-origin:left;">$</div>
<div class="t" style="left:-59.89px;top:496px;height:17px;line-height:17px;font-size:8.4px;color:#333338;text-align:right;transform:scaleX(0.860);transform-origin:right;">46</div>
<div class="t" style="left:485.44px;top:496px;height:17px;line-height:17px;font-size:8.4px;color:#333338;transform:scaleX(0.720);transform-origin:left;">$</div>
<div class="t" style="left:224.11px;top:496px;height:17px;line-height:17px;font-size:8.4px;color:#333338;text-align:right;transform:scaleX(0.860);transform-origin:right;">126</div>
<div class="t" style="left:16.9px;top:508px;height:15px;line-height:15px;font-size:7.5px;color:#3a3a40;">Phone - Cell</div>
<div class="t" style="left:129.44px;top:507px;height:17px;line-height:17px;font-size:8.4px;color:#333338;transform:scaleX(0.720);transform-origin:left;">$</div>
<div class="t" style="left:-139.93px;top:507px;height:17px;line-height:17px;font-size:8.4px;color:#333338;text-align:right;transform:scaleX(0.860);transform-origin:right;">30</div>
<div class="t" style="left:169.44px;top:507px;height:17px;line-height:17px;font-size:8.4px;color:#333338;transform:scaleX(0.720);transform-origin:left;">$</div>
<div class="t" style="left:-99.93px;top:507px;height:17px;line-height:17px;font-size:8.4px;color:#333338;text-align:right;transform:scaleX(0.860);transform-origin:right;">30</div>
<div class="t" style="left:209.44px;top:507px;height:17px;line-height:17px;font-size:8.4px;color:#333338;transform:scaleX(0.720);transform-origin:left;">$</div>
<div class="t" style="left:-59.89px;top:507px;height:17px;line-height:17px;font-size:8.4px;color:#333338;text-align:right;transform:scaleX(0.860);transform-origin:right;">38</div>
<div class="t" style="left:485.44px;top:507px;height:17px;line-height:17px;font-size:8.4px;color:#333338;transform:scaleX(0.720);transform-origin:left;">$</div>
<div class="t" style="left:224.11px;top:507px;height:17px;line-height:17px;font-size:8.4px;color:#333338;text-align:right;transform:scaleX(0.860);transform-origin:right;">98</div>
<div class="t" style="left:17.12px;top:519px;height:15px;line-height:15px;font-size:7.5px;color:#3a3a40;">Cable</div>
<div class="t" style="left:129.44px;top:518px;height:17px;line-height:17px;font-size:8.4px;color:#333338;transform:scaleX(0.720);transform-origin:left;">$</div>
<div class="t" style="left:-139.93px;top:518px;height:17px;line-height:17px;font-size:8.4px;color:#333338;text-align:right;transform:scaleX(0.860);transform-origin:right;">40</div>
<div class="t" style="left:169.44px;top:518px;height:17px;line-height:17px;font-size:8.4px;color:#333338;transform:scaleX(0.720);transform-origin:left;">$</div>
<div class="t" style="left:-99.93px;top:518px;height:17px;line-height:17px;font-size:8.4px;color:#333338;text-align:right;transform:scaleX(0.860);transform-origin:right;">40</div>
<div class="t" style="left:209.44px;top:518px;height:17px;line-height:17px;font-size:8.4px;color:#333338;transform:scaleX(0.720);transform-origin:left;">$</div>
<div class="t" style="left:-59.93px;top:518px;height:17px;line-height:17px;font-size:8.4px;color:#333338;text-align:right;transform:scaleX(0.860);transform-origin:right;">40</div>
<div class="t" style="left:485.44px;top:518px;height:17px;line-height:17px;font-size:8.4px;color:#333338;transform:scaleX(0.720);transform-origin:left;">$</div>
<div class="t" style="left:224.08px;top:518px;height:17px;line-height:17px;font-size:8.4px;color:#333338;text-align:right;transform:scaleX(0.860);transform-origin:right;">120</div>
<div class="t" style="left:17.12px;top:530px;height:15px;line-height:15px;font-size:7.5px;color:#3a3a40;">Gas</div>
<div class="t" style="left:129.44px;top:529px;height:17px;line-height:17px;font-size:8.4px;color:#333338;transform:scaleX(0.720);transform-origin:left;">$</div>
<div class="t" style="left:-139.93px;top:529px;height:17px;line-height:17px;font-size:8.4px;color:#333338;text-align:right;transform:scaleX(0.860);transform-origin:right;">30</div>
<div class="t" style="left:169.44px;top:529px;height:17px;line-height:17px;font-size:8.4px;color:#333338;transform:scaleX(0.720);transform-origin:left;">$</div>
<div class="t" style="left:-99.93px;top:529px;height:17px;line-height:17px;font-size:8.4px;color:#333338;text-align:right;transform:scaleX(0.860);transform-origin:right;">30</div>
<div class="t" style="left:209.44px;top:529px;height:17px;line-height:17px;font-size:8.4px;color:#333338;transform:scaleX(0.720);transform-origin:left;">$</div>
<div class="t" style="left:-59.93px;top:529px;height:17px;line-height:17px;font-size:8.4px;color:#333338;text-align:right;transform:scaleX(0.860);transform-origin:right;">30</div>
<div class="t" style="left:485.44px;top:529px;height:17px;line-height:17px;font-size:8.4px;color:#333338;transform:scaleX(0.720);transform-origin:left;">$</div>
<div class="t" style="left:224.07px;top:529px;height:17px;line-height:17px;font-size:8.4px;color:#333338;text-align:right;transform:scaleX(0.860);transform-origin:right;">90</div>
<div class="t" style="left:17.16px;top:541px;height:15px;line-height:15px;font-size:7.5px;color:#3a3a40;">Other</div>
<div class="t" style="left:129.44px;top:540px;height:17px;line-height:17px;font-size:8.4px;color:#333338;transform:scaleX(0.720);transform-origin:left;">$</div>
<div class="t" style="left:-139.93px;top:540px;height:17px;line-height:17px;font-size:8.4px;color:#333338;text-align:right;transform:scaleX(0.860);transform-origin:right;">40</div>
<div class="t" style="left:169.44px;top:540px;height:17px;line-height:17px;font-size:8.4px;color:#333338;transform:scaleX(0.720);transform-origin:left;">$</div>
<div class="t" style="left:-99.93px;top:540px;height:17px;line-height:17px;font-size:8.4px;color:#333338;text-align:right;transform:scaleX(0.860);transform-origin:right;">40</div>
<div class="t" style="left:209.44px;top:540px;height:17px;line-height:17px;font-size:8.4px;color:#333338;transform:scaleX(0.720);transform-origin:left;">$</div>
<div class="t" style="left:-59.93px;top:540px;height:17px;line-height:17px;font-size:8.4px;color:#333338;text-align:right;transform:scaleX(0.860);transform-origin:right;">40</div>
<div class="t" style="left:485.44px;top:540px;height:17px;line-height:17px;font-size:8.4px;color:#333338;transform:scaleX(0.720);transform-origin:left;">$</div>
<div class="t" style="left:224.08px;top:540px;height:17px;line-height:17px;font-size:8.4px;color:#333338;text-align:right;transform:scaleX(0.860);transform-origin:right;">120</div>
<div class="t" style="left:17.46px;top:552px;height:15px;line-height:15px;font-size:7.5px;color:#3a3a40;">Water</div>
<div class="t" style="left:129.44px;top:551px;height:17px;line-height:17px;font-size:8.4px;color:#333338;transform:scaleX(0.720);transform-origin:left;">$</div>
<div class="a" style="left:149.5px;top:559.8px;width:2.6px;height:1.1px;background:#55555c;"></div>
<div class="t" style="left:169.44px;top:551px;height:17px;line-height:17px;font-size:8.4px;color:#333338;transform:scaleX(0.720);transform-origin:left;">$</div>
<div class="a" style="left:189.5px;top:559.8px;width:2.6px;height:1.1px;background:#55555c;"></div>
<div class="t" style="left:209.44px;top:551px;height:17px;line-height:17px;font-size:8.4px;color:#333338;transform:scaleX(0.720);transform-origin:left;">$</div>
<div class="a" style="left:229.5px;top:559.8px;width:2.6px;height:1.1px;background:#55555c;"></div>
<div class="t" style="left:485.44px;top:551px;height:17px;line-height:17px;font-size:8.4px;color:#333338;transform:scaleX(0.720);transform-origin:left;">$</div>
<div class="a" style="left:512.9px;top:559.8px;width:2.6px;height:1.1px;background:#55555c;"></div>
<div class="t" style="left:16.9px;top:563px;height:15px;line-height:15px;font-size:7.5px;color:#3a3a40;">Electricity</div>
<div class="t" style="left:129.44px;top:562px;height:17px;line-height:17px;font-size:8.4px;color:#333338;transform:scaleX(0.720);transform-origin:left;">$</div>
<div class="t" style="left:-139.93px;top:562px;height:17px;line-height:17px;font-size:8.4px;color:#333338;text-align:right;transform:scaleX(0.860);transform-origin:right;">70</div>
<div class="t" style="left:169.44px;top:562px;height:17px;line-height:17px;font-size:8.4px;color:#333338;transform:scaleX(0.720);transform-origin:left;">$</div>
<div class="t" style="left:-99.93px;top:562px;height:17px;line-height:17px;font-size:8.4px;color:#333338;text-align:right;transform:scaleX(0.860);transform-origin:right;">60</div>
<div class="t" style="left:209.44px;top:562px;height:17px;line-height:17px;font-size:8.4px;color:#333338;transform:scaleX(0.720);transform-origin:left;">$</div>
<div class="t" style="left:-59.93px;top:562px;height:17px;line-height:17px;font-size:8.4px;color:#333338;text-align:right;transform:scaleX(0.860);transform-origin:right;">50</div>
<div class="t" style="left:485.44px;top:562px;height:17px;line-height:17px;font-size:8.4px;color:#333338;transform:scaleX(0.720);transform-origin:left;">$</div>
<div class="t" style="left:224.08px;top:562px;height:17px;line-height:17px;font-size:8.4px;color:#333338;text-align:right;transform:scaleX(0.860);transform-origin:right;">180</div>
<div class="t" style="left:16.82px;top:574px;height:15px;line-height:15px;font-size:7.5px;color:#3a3a40;">Internet</div>
<div class="t" style="left:129.44px;top:573px;height:17px;line-height:17px;font-size:8.4px;color:#333338;transform:scaleX(0.720);transform-origin:left;">$</div>
<div class="t" style="left:-139.93px;top:573px;height:17px;line-height:17px;font-size:8.4px;color:#333338;text-align:right;transform:scaleX(0.860);transform-origin:right;">30</div>
<div class="t" style="left:169.44px;top:573px;height:17px;line-height:17px;font-size:8.4px;color:#333338;transform:scaleX(0.720);transform-origin:left;">$</div>
<div class="t" style="left:-99.93px;top:573px;height:17px;line-height:17px;font-size:8.4px;color:#333338;text-align:right;transform:scaleX(0.860);transform-origin:right;">30</div>
<div class="t" style="left:209.44px;top:573px;height:17px;line-height:17px;font-size:8.4px;color:#333338;transform:scaleX(0.720);transform-origin:left;">$</div>
<div class="t" style="left:-59.93px;top:573px;height:17px;line-height:17px;font-size:8.4px;color:#333338;text-align:right;transform:scaleX(0.860);transform-origin:right;">30</div>
<div class="t" style="left:485.44px;top:573px;height:17px;line-height:17px;font-size:8.4px;color:#333338;transform:scaleX(0.720);transform-origin:left;">$</div>
<div class="t" style="left:224.07px;top:573px;height:17px;line-height:17px;font-size:8.4px;color:#333338;text-align:right;transform:scaleX(0.860);transform-origin:right;">90</div>
<div class="t" style="left:17.16px;top:585px;height:15px;line-height:15px;font-size:7.5px;color:#3a3a40;">Other</div>
<div class="t" style="left:485.44px;top:584px;height:17px;line-height:17px;font-size:8.4px;color:#333338;transform:scaleX(0.720);transform-origin:left;">$</div>
<div class="a" style="left:512.9px;top:592.8px;width:2.6px;height:1.1px;background:#55555c;"></div>
<div class="t" style="left:17.16px;top:596px;height:15px;line-height:15px;font-size:7.5px;color:#3a3a40;">Other</div>
<div class="t" style="left:485.44px;top:595px;height:17px;line-height:17px;font-size:8.4px;color:#333338;transform:scaleX(0.720);transform-origin:left;">$</div>
<div class="a" style="left:512.9px;top:603.8px;width:2.6px;height:1.1px;background:#55555c;"></div>
<div class="t" style="left:17.39px;top:618px;height:16px;line-height:16px;font-size:7.9px;color:#202028;font-weight:bold;">Health</div>
<div class="t" style="left:129.5px;top:617px;height:17px;line-height:17px;font-size:8.4px;color:#202028;font-weight:bold;transform:scaleX(0.820);transform-origin:left;">$</div>
<div class="t" style="left:-140.08px;top:617px;height:17px;line-height:17px;font-size:8.4px;color:#202028;font-weight:bold;text-align:right;transform:scaleX(0.880);transform-origin:right;">550</div>
<div class="t" style="left:169.5px;top:617px;height:17px;line-height:17px;font-size:8.4px;color:#202028;font-weight:bold;transform:scaleX(0.820);transform-origin:left;">$</div>
<div class="t" style="left:-100.08px;top:617px;height:17px;line-height:17px;font-size:8.4px;color:#202028;font-weight:bold;text-align:right;transform:scaleX(0.880);transform-origin:right;">550</div>
<div class="t" style="left:209.5px;top:617px;height:17px;line-height:17px;font-size:8.4px;color:#202028;font-weight:bold;transform:scaleX(0.820);transform-origin:left;">$</div>
<div class="t" style="left:-60.08px;top:617px;height:17px;line-height:17px;font-size:8.4px;color:#202028;font-weight:bold;text-align:right;transform:scaleX(0.880);transform-origin:right;">550</div>
<div class="t" style="left:248.7px;top:617px;height:17px;line-height:17px;font-size:8.2px;color:#202028;font-weight:bold;transform:scaleX(0.850);transform-origin:left;">$ -</div>
<div class="t" style="left:275.7px;top:617px;height:17px;line-height:17px;font-size:8.2px;color:#202028;font-weight:bold;transform:scaleX(0.850);transform-origin:left;">$ -</div>
<div class="t" style="left:301.7px;top:617px;height:17px;line-height:17px;font-size:8.2px;color:#202028;font-weight:bold;transform:scaleX(0.850);transform-origin:left;">$ -</div>
<div class="t" style="left:327.7px;top:617px;height:17px;line-height:17px;font-size:8.2px;color:#202028;font-weight:bold;transform:scaleX(0.850);transform-origin:left;">$ -</div>
<div class="t" style="left:353.7px;top:617px;height:17px;line-height:17px;font-size:8.2px;color:#202028;font-weight:bold;transform:scaleX(0.850);transform-origin:left;">$ -</div>
<div class="t" style="left:379.7px;top:617px;height:17px;line-height:17px;font-size:8.2px;color:#202028;font-weight:bold;transform:scaleX(0.850);transform-origin:left;">$ -</div>
<div class="t" style="left:405.7px;top:617px;height:17px;line-height:17px;font-size:8.2px;color:#202028;font-weight:bold;transform:scaleX(0.850);transform-origin:left;">$ -</div>
<div class="t" style="left:431.7px;top:617px;height:17px;line-height:17px;font-size:8.2px;color:#202028;font-weight:bold;transform:scaleX(0.850);transform-origin:left;">$ -</div>
<div class="t" style="left:458.7px;top:617px;height:17px;line-height:17px;font-size:8.2px;color:#202028;font-weight:bold;transform:scaleX(0.850);transform-origin:left;">$ -</div>
<div class="t" style="left:485.4px;top:617px;height:17px;line-height:17px;font-size:8.4px;color:#202028;font-weight:bold;transform:scaleX(0.820);transform-origin:left;">$</div>
<div class="t" style="left:224.11px;top:617px;height:17px;line-height:17px;font-size:8.4px;color:#202028;font-weight:bold;text-align:right;transform:scaleX(0.880);transform-origin:right;">1,650</div>
<div class="a" style="left:124.0px;top:630.0px;width:357.0px;height:111.0px;background:#ffffff;"></div>
<div class="a" style="left:124.0px;top:630.0px;width:357.0px;height:1.0px;background:#d6d6d6;"></div>
<div class="a" style="left:124.0px;top:641.0px;width:357.0px;height:1.0px;background:#d6d6d6;"></div>
<div class="a" style="left:124.0px;top:652.0px;width:357.0px;height:1.0px;background:#d6d6d6;"></div>
<div class="a" style="left:124.0px;top:663.0px;width:357.0px;height:1.0px;background:#d6d6d6;"></div>
<div class="a" style="left:124.0px;top:674.0px;width:357.0px;height:1.0px;background:#d6d6d6;"></div>
<div class="a" style="left:124.0px;top:685.0px;width:357.0px;height:1.0px;background:#d6d6d6;"></div>
<div class="a" style="left:124.0px;top:696.0px;width:357.0px;height:1.0px;background:#d6d6d6;"></div>
<div class="a" style="left:124.0px;top:707.0px;width:357.0px;height:1.0px;background:#d6d6d6;"></div>
<div class="a" style="left:124.0px;top:718.0px;width:357.0px;height:1.0px;background:#d6d6d6;"></div>
<div class="a" style="left:124.0px;top:729.0px;width:357.0px;height:1.0px;background:#d6d6d6;"></div>
<div class="a" style="left:124.0px;top:740.0px;width:357.0px;height:1.0px;background:#d6d6d6;"></div>
<div class="a" style="left:124.0px;top:630.0px;width:1.0px;height:111.0px;background:#d6d6d6;"></div>
<div class="a" style="left:164.0px;top:630.0px;width:1.0px;height:111.0px;background:#d6d6d6;"></div>
<div class="a" style="left:204.0px;top:630.0px;width:1.0px;height:111.0px;background:#d6d6d6;"></div>
<div class="a" style="left:244.0px;top:630.0px;width:1.0px;height:111.0px;background:#d6d6d6;"></div>
<div class="a" style="left:271.0px;top:630.0px;width:1.0px;height:111.0px;background:#d6d6d6;"></div>
<div class="a" style="left:297.0px;top:630.0px;width:1.0px;height:111.0px;background:#d6d6d6;"></div>
<div class="a" style="left:323.0px;top:630.0px;width:1.0px;height:111.0px;background:#d6d6d6;"></div>
<div class="a" style="left:349.0px;top:630.0px;width:1.0px;height:111.0px;background:#d6d6d6;"></div>
<div class="a" style="left:375.0px;top:630.0px;width:1.0px;height:111.0px;background:#d6d6d6;"></div>
<div class="a" style="left:401.0px;top:630.0px;width:1.0px;height:111.0px;background:#d6d6d6;"></div>
<div class="a" style="left:427.0px;top:630.0px;width:1.0px;height:111.0px;background:#d6d6d6;"></div>
<div class="a" style="left:454.0px;top:630.0px;width:1.0px;height:111.0px;background:#d6d6d6;"></div>
<div class="a" style="left:480.0px;top:630.0px;width:1.0px;height:111.0px;background:#d6d6d6;"></div>
<div class="t" style="left:16.9px;top:629px;height:15px;line-height:15px;font-size:7.5px;color:#3a3a40;">Dental</div>
<div class="t" style="left:129.44px;top:628px;height:17px;line-height:17px;font-size:8.4px;color:#333338;transform:scaleX(0.720);transform-origin:left;">$</div>
<div class="t" style="left:-139.93px;top:628px;height:17px;line-height:17px;font-size:8.4px;color:#333338;text-align:right;transform:scaleX(0.860);transform-origin:right;">10</div>
<div class="t" style="left:169.44px;top:628px;height:17px;line-height:17px;font-size:8.4px;color:#333338;transform:scaleX(0.720);transform-origin:left;">$</div>
<div class="t" style="left:-99.93px;top:628px;height:17px;line-height:17px;font-size:8.4px;color:#333338;text-align:right;transform:scaleX(0.860);transform-origin:right;">10</div>
<div class="t" style="left:209.44px;top:628px;height:17px;line-height:17px;font-size:8.4px;color:#333338;transform:scaleX(0.720);transform-origin:left;">$</div>
<div class="t" style="left:-59.93px;top:628px;height:17px;line-height:17px;font-size:8.4px;color:#333338;text-align:right;transform:scaleX(0.860);transform-origin:right;">10</div>
<div class="t" style="left:485.44px;top:628px;height:17px;line-height:17px;font-size:8.4px;color:#333338;transform:scaleX(0.720);transform-origin:left;">$</div>
<div class="t" style="left:224.07px;top:628px;height:17px;line-height:17px;font-size:8.4px;color:#333338;text-align:right;transform:scaleX(0.860);transform-origin:right;">30</div>
<div class="t" style="left:16.9px;top:640px;height:15px;line-height:15px;font-size:7.5px;color:#3a3a40;">Medical</div>
<div class="t" style="left:129.44px;top:639px;height:17px;line-height:17px;font-size:8.4px;color:#333338;transform:scaleX(0.720);transform-origin:left;">$</div>
<div class="t" style="left:-139.92px;top:639px;height:17px;line-height:17px;font-size:8.4px;color:#333338;text-align:right;transform:scaleX(0.860);transform-origin:right;">500</div>
<div class="t" style="left:169.44px;top:639px;height:17px;line-height:17px;font-size:8.4px;color:#333338;transform:scaleX(0.720);transform-origin:left;">$</div>
<div class="t" style="left:-99.92px;top:639px;height:17px;line-height:17px;font-size:8.4px;color:#333338;text-align:right;transform:scaleX(0.860);transform-origin:right;">500</div>
<div class="t" style="left:209.44px;top:639px;height:17px;line-height:17px;font-size:8.4px;color:#333338;transform:scaleX(0.720);transform-origin:left;">$</div>
<div class="t" style="left:-59.92px;top:639px;height:17px;line-height:17px;font-size:8.4px;color:#333338;text-align:right;transform:scaleX(0.860);transform-origin:right;">500</div>
<div class="t" style="left:485.44px;top:639px;height:17px;line-height:17px;font-size:8.4px;color:#333338;transform:scaleX(0.720);transform-origin:left;">$</div>
<div class="t" style="left:224.07px;top:639px;height:17px;line-height:17px;font-size:8.4px;color:#333338;text-align:right;transform:scaleX(0.860);transform-origin:right;">1,500</div>
<div class="t" style="left:16.9px;top:651px;height:15px;line-height:15px;font-size:7.5px;color:#3a3a40;">Medication</div>
<div class="t" style="left:485.44px;top:650px;height:17px;line-height:17px;font-size:8.4px;color:#333338;transform:scaleX(0.720);transform-origin:left;">$</div>
<div class="a" style="left:512.9px;top:658.8px;width:2.6px;height:1.1px;background:#55555c;"></div>
<div class="t" style="left:17.46px;top:662px;height:15px;line-height:15px;font-size:7.5px;color:#3a3a40;">Vision/contacts</div>
<div class="t" style="left:485.44px;top:661px;height:17px;line-height:17px;font-size:8.4px;color:#333338;transform:scaleX(0.720);transform-origin:left;">$</div>
<div class="a" style="left:512.9px;top:669.8px;width:2.6px;height:1.1px;background:#55555c;"></div>
<div class="t" style="left:16.9px;top:673px;height:15px;line-height:15px;font-size:7.5px;color:#3a3a40;">Life Insurance</div>
<div class="t" style="left:485.44px;top:672px;height:17px;line-height:17px;font-size:8.4px;color:#333338;transform:scaleX(0.720);transform-origin:left;">$</div>
<div class="a" style="left:512.9px;top:680.8px;width:2.6px;height:1.1px;background:#55555c;"></div>
<div class="t" style="left:17.16px;top:684px;height:15px;line-height:15px;font-size:7.5px;color:#3a3a40;">Other</div>
<div class="t" style="left:129.44px;top:683px;height:17px;line-height:17px;font-size:8.4px;color:#333338;transform:scaleX(0.720);transform-origin:left;">$</div>
<div class="t" style="left:-139.93px;top:683px;height:17px;line-height:17px;font-size:8.4px;color:#333338;text-align:right;transform:scaleX(0.860);transform-origin:right;">30</div>
<div class="t" style="left:169.44px;top:683px;height:17px;line-height:17px;font-size:8.4px;color:#333338;transform:scaleX(0.720);transform-origin:left;">$</div>
<div class="t" style="left:-99.93px;top:683px;height:17px;line-height:17px;font-size:8.4px;color:#333338;text-align:right;transform:scaleX(0.860);transform-origin:right;">30</div>
<div class="t" style="left:209.44px;top:683px;height:17px;line-height:17px;font-size:8.4px;color:#333338;transform:scaleX(0.720);transform-origin:left;">$</div>
<div class="t" style="left:-59.93px;top:683px;height:17px;line-height:17px;font-size:8.4px;color:#333338;text-align:right;transform:scaleX(0.860);transform-origin:right;">30</div>
<div class="t" style="left:485.44px;top:683px;height:17px;line-height:17px;font-size:8.4px;color:#333338;transform:scaleX(0.720);transform-origin:left;">$</div>
<div class="t" style="left:224.07px;top:683px;height:17px;line-height:17px;font-size:8.4px;color:#333338;text-align:right;transform:scaleX(0.860);transform-origin:right;">90</div>
<div class="t" style="left:17.16px;top:695px;height:15px;line-height:15px;font-size:7.5px;color:#3a3a40;">Other</div>
<div class="t" style="left:485.44px;top:694px;height:17px;line-height:17px;font-size:8.4px;color:#333338;transform:scaleX(0.720);transform-origin:left;">$</div>
<div class="a" style="left:512.9px;top:702.8px;width:2.6px;height:1.1px;background:#55555c;"></div>
<div class="t" style="left:17.16px;top:706px;height:15px;line-height:15px;font-size:7.5px;color:#3a3a40;">Other</div>
<div class="t" style="left:129.44px;top:705px;height:17px;line-height:17px;font-size:8.4px;color:#333338;transform:scaleX(0.720);transform-origin:left;">$</div>
<div class="t" style="left:-139.93px;top:705px;height:17px;line-height:17px;font-size:8.4px;color:#333338;text-align:right;transform:scaleX(0.860);transform-origin:right;">10</div>
<div class="t" style="left:169.44px;top:705px;height:17px;line-height:17px;font-size:8.4px;color:#333338;transform:scaleX(0.720);transform-origin:left;">$</div>
<div class="t" style="left:-99.93px;top:705px;height:17px;line-height:17px;font-size:8.4px;color:#333338;text-align:right;transform:scaleX(0.860);transform-origin:right;">10</div>
<div class="t" style="left:209.44px;top:705px;height:17px;line-height:17px;font-size:8.4px;color:#333338;transform:scaleX(0.720);transform-origin:left;">$</div>
<div class="t" style="left:-59.93px;top:705px;height:17px;line-height:17px;font-size:8.4px;color:#333338;text-align:right;transform:scaleX(0.860);transform-origin:right;">10</div>
<div class="t" style="left:485.44px;top:705px;height:17px;line-height:17px;font-size:8.4px;color:#333338;transform:scaleX(0.720);transform-origin:left;">$</div>
<div class="t" style="left:224.07px;top:705px;height:17px;line-height:17px;font-size:8.4px;color:#333338;text-align:right;transform:scaleX(0.860);transform-origin:right;">30</div>
<div class="t" style="left:17.16px;top:717px;height:15px;line-height:15px;font-size:7.5px;color:#3a3a40;">Other</div>
<div class="t" style="left:485.44px;top:716px;height:17px;line-height:17px;font-size:8.4px;color:#333338;transform:scaleX(0.720);transform-origin:left;">$</div>
<div class="a" style="left:512.9px;top:724.8px;width:2.6px;height:1.1px;background:#55555c;"></div>
<div class="t" style="left:17.16px;top:728px;height:15px;line-height:15px;font-size:7.5px;color:#3a3a40;">Other</div>
<div class="t" style="left:485.44px;top:727px;height:17px;line-height:17px;font-size:8.4px;color:#333338;transform:scaleX(0.720);transform-origin:left;">$</div>
<div class="a" style="left:512.9px;top:735.8px;width:2.6px;height:1.1px;background:#55555c;"></div>
<div class="t" style="left:17.39px;top:750px;height:16px;line-height:16px;font-size:7.9px;color:#202028;font-weight:bold;">Entertainment</div>
<div class="t" style="left:129.5px;top:749px;height:17px;line-height:17px;font-size:8.4px;color:#202028;font-weight:bold;transform:scaleX(0.820);transform-origin:left;">$</div>
<div class="t" style="left:-140.08px;top:749px;height:17px;line-height:17px;font-size:8.4px;color:#202028;font-weight:bold;text-align:right;transform:scaleX(0.880);transform-origin:right;">282</div>
<div class="t" style="left:169.5px;top:749px;height:17px;line-height:17px;font-size:8.4px;color:#202028;font-weight:bold;transform:scaleX(0.820);transform-origin:left;">$</div>
<div class="t" style="left:-100.08px;top:749px;height:17px;line-height:17px;font-size:8.4px;color:#202028;font-weight:bold;text-align:right;transform:scaleX(0.880);transform-origin:right;">187</div>
<div class="t" style="left:209.5px;top:749px;height:17px;line-height:17px;font-size:8.4px;color:#202028;font-weight:bold;transform:scaleX(0.820);transform-origin:left;">$</div>
<div class="t" style="left:-60.34px;top:749px;height:17px;line-height:17px;font-size:8.4px;color:#202028;font-weight:bold;text-align:right;transform:scaleX(0.880);transform-origin:right;">454</div>
<div class="t" style="left:248.7px;top:749px;height:17px;line-height:17px;font-size:8.2px;color:#202028;font-weight:bold;transform:scaleX(0.850);transform-origin:left;">$ -</div>
<div class="t" style="left:275.7px;top:749px;height:17px;line-height:17px;font-size:8.2px;color:#202028;font-weight:bold;transform:scaleX(0.850);transform-origin:left;">$ -</div>
<div class="t" style="left:301.7px;top:749px;height:17px;line-height:17px;font-size:8.2px;color:#202028;font-weight:bold;transform:scaleX(0.850);transform-origin:left;">$ -</div>
<div class="t" style="left:327.7px;top:749px;height:17px;line-height:17px;font-size:8.2px;color:#202028;font-weight:bold;transform:scaleX(0.850);transform-origin:left;">$ -</div>
<div class="t" style="left:353.7px;top:749px;height:17px;line-height:17px;font-size:8.2px;color:#202028;font-weight:bold;transform:scaleX(0.850);transform-origin:left;">$ -</div>
<div class="t" style="left:379.7px;top:749px;height:17px;line-height:17px;font-size:8.2px;color:#202028;font-weight:bold;transform:scaleX(0.850);transform-origin:left;">$ -</div>
<div class="t" style="left:405.7px;top:749px;height:17px;line-height:17px;font-size:8.2px;color:#202028;font-weight:bold;transform:scaleX(0.850);transform-origin:left;">$ -</div>
<div class="t" style="left:431.7px;top:749px;height:17px;line-height:17px;font-size:8.2px;color:#202028;font-weight:bold;transform:scaleX(0.850);transform-origin:left;">$ -</div>
<div class="t" style="left:458.7px;top:749px;height:17px;line-height:17px;font-size:8.2px;color:#202028;font-weight:bold;transform:scaleX(0.850);transform-origin:left;">$ -</div>
<div class="t" style="left:485.4px;top:749px;height:17px;line-height:17px;font-size:8.4px;color:#202028;font-weight:bold;transform:scaleX(0.820);transform-origin:left;">$</div>
<div class="t" style="left:224.08px;top:749px;height:17px;line-height:17px;font-size:8.4px;color:#202028;font-weight:bold;text-align:right;transform:scaleX(0.880);transform-origin:right;">923</div>
<div class="a" style="left:124.0px;top:762.0px;width:357.0px;height:111.0px;background:#ffffff;"></div>
<div class="a" style="left:124.0px;top:762.0px;width:357.0px;height:1.0px;background:#d6d6d6;"></div>
<div class="a" style="left:124.0px;top:773.0px;width:357.0px;height:1.0px;background:#d6d6d6;"></div>
<div class="a" style="left:124.0px;top:784.0px;width:357.0px;height:1.0px;background:#d6d6d6;"></div>
<div class="a" style="left:124.0px;top:795.0px;width:357.0px;height:1.0px;background:#d6d6d6;"></div>
<div class="a" style="left:124.0px;top:806.0px;width:357.0px;height:1.0px;background:#d6d6d6;"></div>
<div class="a" style="left:124.0px;top:817.0px;width:357.0px;height:1.0px;background:#d6d6d6;"></div>
<div class="a" style="left:124.0px;top:828.0px;width:357.0px;height:1.0px;background:#d6d6d6;"></div>
<div class="a" style="left:124.0px;top:839.0px;width:357.0px;height:1.0px;background:#d6d6d6;"></div>
<div class="a" style="left:124.0px;top:850.0px;width:357.0px;height:1.0px;background:#d6d6d6;"></div>
<div class="a" style="left:124.0px;top:861.0px;width:357.0px;height:1.0px;background:#d6d6d6;"></div>
<div class="a" style="left:124.0px;top:872.0px;width:357.0px;height:1.0px;background:#d6d6d6;"></div>
<div class="a" style="left:124.0px;top:762.0px;width:1.0px;height:111.0px;background:#d6d6d6;"></div>
<div class="a" style="left:164.0px;top:762.0px;width:1.0px;height:111.0px;background:#d6d6d6;"></div>
<div class="a" style="left:204.0px;top:762.0px;width:1.0px;height:111.0px;background:#d6d6d6;"></div>
<div class="a" style="left:244.0px;top:762.0px;width:1.0px;height:111.0px;background:#d6d6d6;"></div>
<div class="a" style="left:271.0px;top:762.0px;width:1.0px;height:111.0px;background:#d6d6d6;"></div>
<div class="a" style="left:297.0px;top:762.0px;width:1.0px;height:111.0px;background:#d6d6d6;"></div>
<div class="a" style="left:323.0px;top:762.0px;width:1.0px;height:111.0px;background:#d6d6d6;"></div>
<div class="a" style="left:349.0px;top:762.0px;width:1.0px;height:111.0px;background:#d6d6d6;"></div>
<div class="a" style="left:375.0px;top:762.0px;width:1.0px;height:111.0px;background:#d6d6d6;"></div>
<div class="a" style="left:401.0px;top:762.0px;width:1.0px;height:111.0px;background:#d6d6d6;"></div>
<div class="a" style="left:427.0px;top:762.0px;width:1.0px;height:111.0px;background:#d6d6d6;"></div>
<div class="a" style="left:454.0px;top:762.0px;width:1.0px;height:111.0px;background:#d6d6d6;"></div>
<div class="a" style="left:480.0px;top:762.0px;width:1.0px;height:111.0px;background:#d6d6d6;"></div>
<div class="t" style="left:16.9px;top:761px;height:15px;line-height:15px;font-size:7.5px;color:#3a3a40;">Memberships</div>
<div class="t" style="left:129.44px;top:760px;height:17px;line-height:17px;font-size:8.4px;color:#333338;transform:scaleX(0.720);transform-origin:left;">$</div>
<div class="t" style="left:-139.93px;top:760px;height:17px;line-height:17px;font-size:8.4px;color:#333338;text-align:right;transform:scaleX(0.860);transform-origin:right;">60</div>
<div class="t" style="left:169.44px;top:760px;height:17px;line-height:17px;font-size:8.4px;color:#333338;transform:scaleX(0.720);transform-origin:left;">$</div>
<div class="t" style="left:-99.93px;top:760px;height:17px;line-height:17px;font-size:8.4px;color:#333338;text-align:right;transform:scaleX(0.860);transform-origin:right;">60</div>
<div class="t" style="left:209.44px;top:760px;height:17px;line-height:17px;font-size:8.4px;color:#333338;transform:scaleX(0.720);transform-origin:left;">$</div>
<div class="t" style="left:-59.93px;top:760px;height:17px;line-height:17px;font-size:8.4px;color:#333338;text-align:right;transform:scaleX(0.860);transform-origin:right;">60</div>
<div class="t" style="left:485.44px;top:760px;height:17px;line-height:17px;font-size:8.4px;color:#333338;transform:scaleX(0.720);transform-origin:left;">$</div>
<div class="t" style="left:224.08px;top:760px;height:17px;line-height:17px;font-size:8.4px;color:#333338;text-align:right;transform:scaleX(0.860);transform-origin:right;">180</div>
<div class="t" style="left:16.9px;top:772px;height:15px;line-height:15px;font-size:7.5px;color:#3a3a40;">Events</div>
<div class="t" style="left:129.44px;top:771px;height:17px;line-height:17px;font-size:8.4px;color:#333338;transform:scaleX(0.720);transform-origin:left;">$</div>
<div class="t" style="left:-139.92px;top:771px;height:17px;line-height:17px;font-size:8.4px;color:#333338;text-align:right;transform:scaleX(0.860);transform-origin:right;">100</div>
<div class="t" style="left:169.44px;top:771px;height:17px;line-height:17px;font-size:8.4px;color:#333338;transform:scaleX(0.720);transform-origin:left;">$</div>
<div class="t" style="left:-99.89px;top:771px;height:17px;line-height:17px;font-size:8.4px;color:#333338;text-align:right;transform:scaleX(0.860);transform-origin:right;">75</div>
<div class="t" style="left:209.44px;top:771px;height:17px;line-height:17px;font-size:8.4px;color:#333338;transform:scaleX(0.720);transform-origin:left;">$</div>
<div class="t" style="left:-59.92px;top:771px;height:17px;line-height:17px;font-size:8.4px;color:#333338;text-align:right;transform:scaleX(0.860);transform-origin:right;">200</div>
<div class="t" style="left:485.44px;top:771px;height:17px;line-height:17px;font-size:8.4px;color:#333338;transform:scaleX(0.720);transform-origin:left;">$</div>
<div class="t" style="left:224.11px;top:771px;height:17px;line-height:17px;font-size:8.4px;color:#333338;text-align:right;transform:scaleX(0.860);transform-origin:right;">375</div>
<div class="t" style="left:17.16px;top:783px;height:15px;line-height:15px;font-size:7.5px;color:#3a3a40;">Subscriptions</div>
<div class="t" style="left:129.44px;top:782px;height:17px;line-height:17px;font-size:8.4px;color:#333338;transform:scaleX(0.720);transform-origin:left;">$</div>
<div class="t" style="left:-139.93px;top:782px;height:17px;line-height:17px;font-size:8.4px;color:#333338;text-align:right;transform:scaleX(0.860);transform-origin:right;">50</div>
<div class="t" style="left:485.44px;top:782px;height:17px;line-height:17px;font-size:8.4px;color:#333338;transform:scaleX(0.720);transform-origin:left;">$</div>
<div class="t" style="left:224.07px;top:782px;height:17px;line-height:17px;font-size:8.4px;color:#333338;text-align:right;transform:scaleX(0.860);transform-origin:right;">50</div>
<div class="t" style="left:16.9px;top:794px;height:15px;line-height:15px;font-size:7.5px;color:#3a3a40;">Movies</div>
<div class="t" style="left:129.44px;top:793px;height:17px;line-height:17px;font-size:8.4px;color:#333338;transform:scaleX(0.720);transform-origin:left;">$</div>
<div class="t" style="left:-139.89px;top:793px;height:17px;line-height:17px;font-size:8.4px;color:#333338;text-align:right;transform:scaleX(0.860);transform-origin:right;">15</div>
<div class="t" style="left:169.44px;top:793px;height:17px;line-height:17px;font-size:8.4px;color:#333338;transform:scaleX(0.720);transform-origin:left;">$</div>
<div class="t" style="left:-99.89px;top:793px;height:17px;line-height:17px;font-size:8.4px;color:#333338;text-align:right;transform:scaleX(0.860);transform-origin:right;">15</div>
<div class="t" style="left:209.44px;top:793px;height:17px;line-height:17px;font-size:8.4px;color:#333338;transform:scaleX(0.720);transform-origin:left;">$</div>
<div class="t" style="left:-59.89px;top:793px;height:17px;line-height:17px;font-size:8.4px;color:#333338;text-align:right;transform:scaleX(0.860);transform-origin:right;">25</div>
<div class="t" style="left:485.44px;top:793px;height:17px;line-height:17px;font-size:8.4px;color:#333338;transform:scaleX(0.720);transform-origin:left;">$</div>
<div class="t" style="left:224.11px;top:793px;height:17px;line-height:17px;font-size:8.4px;color:#333338;text-align:right;transform:scaleX(0.860);transform-origin:right;">55</div>
<div class="t" style="left:16.9px;top:805px;height:15px;line-height:15px;font-size:7.5px;color:#3a3a40;">Music</div>
<div class="t" style="left:129.44px;top:804px;height:17px;line-height:17px;font-size:8.4px;color:#333338;transform:scaleX(0.720);transform-origin:left;">$</div>
<div class="t" style="left:-139.82px;top:804px;height:17px;line-height:17px;font-size:8.4px;color:#333338;text-align:right;transform:scaleX(0.860);transform-origin:right;">22</div>
<div class="t" style="left:169.44px;top:804px;height:17px;line-height:17px;font-size:8.4px;color:#333338;transform:scaleX(0.720);transform-origin:left;">$</div>
<div class="t" style="left:-99.82px;top:804px;height:17px;line-height:17px;font-size:8.4px;color:#333338;text-align:right;transform:scaleX(0.860);transform-origin:right;">22</div>
<div class="t" style="left:209.44px;top:804px;height:17px;line-height:17px;font-size:8.4px;color:#333338;transform:scaleX(0.720);transform-origin:left;">$</div>
<div class="t" style="left:-60.0px;top:804px;height:17px;line-height:17px;font-size:8.4px;color:#333338;text-align:right;transform:scaleX(0.860);transform-origin:right;">44</div>
<div class="t" style="left:485.44px;top:804px;height:17px;line-height:17px;font-size:8.4px;color:#333338;transform:scaleX(0.720);transform-origin:left;">$</div>
<div class="t" style="left:224.11px;top:804px;height:17px;line-height:17px;font-size:8.4px;color:#333338;text-align:right;transform:scaleX(0.860);transform-origin:right;">88</div>
<div class="t" style="left:16.9px;top:816px;height:15px;line-height:15px;font-size:7.5px;color:#3a3a40;">Hobbies</div>
<div class="t" style="left:129.44px;top:815px;height:17px;line-height:17px;font-size:8.4px;color:#333338;transform:scaleX(0.720);transform-origin:left;">$</div>
<div class="t" style="left:-139.89px;top:815px;height:17px;line-height:17px;font-size:8.4px;color:#333338;text-align:right;transform:scaleX(0.860);transform-origin:right;">15</div>
<div class="t" style="left:169.44px;top:815px;height:17px;line-height:17px;font-size:8.4px;color:#333338;transform:scaleX(0.720);transform-origin:left;">$</div>
<div class="t" style="left:-99.89px;top:815px;height:17px;line-height:17px;font-size:8.4px;color:#333338;text-align:right;transform:scaleX(0.860);transform-origin:right;">15</div>
<div class="t" style="left:209.44px;top:815px;height:17px;line-height:17px;font-size:8.4px;color:#333338;transform:scaleX(0.720);transform-origin:left;">$</div>
<div class="t" style="left:-59.93px;top:815px;height:17px;line-height:17px;font-size:8.4px;color:#333338;text-align:right;transform:scaleX(0.860);transform-origin:right;">30</div>
<div class="t" style="left:485.44px;top:815px;height:17px;line-height:17px;font-size:8.4px;color:#333338;transform:scaleX(0.720);transform-origin:left;">$</div>
<div class="t" style="left:224.07px;top:815px;height:17px;line-height:17px;font-size:8.4px;color:#333338;text-align:right;transform:scaleX(0.860);transform-origin:right;">60</div>
<div class="t" style="left:17.35px;top:827px;height:15px;line-height:15px;font-size:7.5px;color:#3a3a40;">Travel/ Vacation</div>
<div class="t" style="left:129.44px;top:826px;height:17px;line-height:17px;font-size:8.4px;color:#333338;transform:scaleX(0.720);transform-origin:left;">$</div>
<div class="t" style="left:-139.93px;top:826px;height:17px;line-height:17px;font-size:8.4px;color:#333338;text-align:right;transform:scaleX(0.860);transform-origin:right;">20</div>
<div class="t" style="left:209.44px;top:826px;height:17px;line-height:17px;font-size:8.4px;color:#333338;transform:scaleX(0.720);transform-origin:left;">$</div>
<div class="t" style="left:-59.93px;top:826px;height:17px;line-height:17px;font-size:8.4px;color:#333338;text-align:right;transform:scaleX(0.860);transform-origin:right;">40</div>
<div class="t" style="left:485.44px;top:826px;height:17px;line-height:17px;font-size:8.4px;color:#333338;transform:scaleX(0.720);transform-origin:left;">$</div>
<div class="t" style="left:224.07px;top:826px;height:17px;line-height:17px;font-size:8.4px;color:#333338;text-align:right;transform:scaleX(0.860);transform-origin:right;">60</div>
<div class="t" style="left:17.16px;top:838px;height:15px;line-height:15px;font-size:7.5px;color:#3a3a40;">Other</div>
<div class="t" style="left:485.44px;top:837px;height:17px;line-height:17px;font-size:8.4px;color:#333338;transform:scaleX(0.720);transform-origin:left;">$</div>
<div class="a" style="left:512.9px;top:845.8px;width:2.6px;height:1.1px;background:#55555c;"></div>
<div class="t" style="left:17.16px;top:849px;height:15px;line-height:15px;font-size:7.5px;color:#3a3a40;">Other</div>
<div class="t" style="left:209.44px;top:848px;height:17px;line-height:17px;font-size:8.4px;color:#333338;transform:scaleX(0.720);transform-origin:left;">$</div>
<div class="t" style="left:-59.89px;top:848px;height:17px;line-height:17px;font-size:8.4px;color:#333338;text-align:right;transform:scaleX(0.860);transform-origin:right;">55</div>
<div class="t" style="left:485.44px;top:848px;height:17px;line-height:17px;font-size:8.4px;color:#333338;transform:scaleX(0.720);transform-origin:left;">$</div>
<div class="t" style="left:224.11px;top:848px;height:17px;line-height:17px;font-size:8.4px;color:#333338;text-align:right;transform:scaleX(0.860);transform-origin:right;">55</div>
<div class="t" style="left:17.16px;top:860px;height:15px;line-height:15px;font-size:7.5px;color:#3a3a40;">Other</div>
<div class="t" style="left:485.44px;top:859px;height:17px;line-height:17px;font-size:8.4px;color:#333338;transform:scaleX(0.720);transform-origin:left;">$</div>
<div class="a" style="left:512.9px;top:867.8px;width:2.6px;height:1.1px;background:#55555c;"></div>
<div class="t" style="left:17.39px;top:882px;height:16px;line-height:16px;font-size:7.9px;color:#202028;font-weight:bold;">Dining</div>
<div class="t" style="left:129.5px;top:881px;height:17px;line-height:17px;font-size:8.4px;color:#202028;font-weight:bold;transform:scaleX(0.820);transform-origin:left;">$</div>
<div class="t" style="left:-140.09px;top:881px;height:17px;line-height:17px;font-size:8.4px;color:#202028;font-weight:bold;text-align:right;transform:scaleX(0.880);transform-origin:right;">1,007</div>
<div class="t" style="left:169.5px;top:881px;height:17px;line-height:17px;font-size:8.4px;color:#202028;font-weight:bold;transform:scaleX(0.820);transform-origin:left;">$</div>
<div class="t" style="left:-100.08px;top:881px;height:17px;line-height:17px;font-size:8.4px;color:#202028;font-weight:bold;text-align:right;transform:scaleX(0.880);transform-origin:right;">862</div>
<div class="t" style="left:209.5px;top:881px;height:17px;line-height:17px;font-size:8.4px;color:#202028;font-weight:bold;transform:scaleX(0.820);transform-origin:left;">$</div>
<div class="t" style="left:-60.12px;top:881px;height:17px;line-height:17px;font-size:8.4px;color:#202028;font-weight:bold;text-align:right;transform:scaleX(0.880);transform-origin:right;">1,039</div>
<div class="t" style="left:248.7px;top:881px;height:17px;line-height:17px;font-size:8.2px;color:#202028;font-weight:bold;transform:scaleX(0.850);transform-origin:left;">$ -</div>
<div class="t" style="left:275.7px;top:881px;height:17px;line-height:17px;font-size:8.2px;color:#202028;font-weight:bold;transform:scaleX(0.850);transform-origin:left;">$ -</div>
<div class="t" style="left:301.7px;top:881px;height:17px;line-height:17px;font-size:8.2px;color:#202028;font-weight:bold;transform:scaleX(0.850);transform-origin:left;">$ -</div>
<div class="t" style="left:327.7px;top:881px;height:17px;line-height:17px;font-size:8.2px;color:#202028;font-weight:bold;transform:scaleX(0.850);transform-origin:left;">$ -</div>
<div class="t" style="left:353.7px;top:881px;height:17px;line-height:17px;font-size:8.2px;color:#202028;font-weight:bold;transform:scaleX(0.850);transform-origin:left;">$ -</div>
<div class="t" style="left:379.7px;top:881px;height:17px;line-height:17px;font-size:8.2px;color:#202028;font-weight:bold;transform:scaleX(0.850);transform-origin:left;">$ -</div>
<div class="t" style="left:405.7px;top:881px;height:17px;line-height:17px;font-size:8.2px;color:#202028;font-weight:bold;transform:scaleX(0.850);transform-origin:left;">$ -</div>
<div class="t" style="left:431.7px;top:881px;height:17px;line-height:17px;font-size:8.2px;color:#202028;font-weight:bold;transform:scaleX(0.850);transform-origin:left;">$ -</div>
<div class="t" style="left:458.7px;top:881px;height:17px;line-height:17px;font-size:8.2px;color:#202028;font-weight:bold;transform:scaleX(0.850);transform-origin:left;">$ -</div>
<div class="t" style="left:485.4px;top:881px;height:17px;line-height:17px;font-size:8.4px;color:#202028;font-weight:bold;transform:scaleX(0.820);transform-origin:left;">$</div>
<div class="t" style="left:224.04px;top:881px;height:17px;line-height:17px;font-size:8.4px;color:#202028;font-weight:bold;text-align:right;transform:scaleX(0.880);transform-origin:right;">2,908</div>
<div class="a" style="left:124.0px;top:894.0px;width:357.0px;height:45.0px;background:#ffffff;"></div>
<div class="a" style="left:124.0px;top:894.0px;width:357.0px;height:1.0px;background:#d6d6d6;"></div>
<div class="a" style="left:124.0px;top:905.0px;width:357.0px;height:1.0px;background:#d6d6d6;"></div>
<div class="a" style="left:124.0px;top:916.0px;width:357.0px;height:1.0px;background:#d6d6d6;"></div>
<div class="a" style="left:124.0px;top:927.0px;width:357.0px;height:1.0px;background:#d6d6d6;"></div>
<div class="a" style="left:124.0px;top:938.0px;width:357.0px;height:1.0px;background:#d6d6d6;"></div>
<div class="a" style="left:124.0px;top:894.0px;width:1.0px;height:45.0px;background:#d6d6d6;"></div>
<div class="a" style="left:164.0px;top:894.0px;width:1.0px;height:45.0px;background:#d6d6d6;"></div>
<div class="a" style="left:204.0px;top:894.0px;width:1.0px;height:45.0px;background:#d6d6d6;"></div>
<div class="a" style="left:244.0px;top:894.0px;width:1.0px;height:45.0px;background:#d6d6d6;"></div>
<div class="a" style="left:271.0px;top:894.0px;width:1.0px;height:45.0px;background:#d6d6d6;"></div>
<div class="a" style="left:297.0px;top:894.0px;width:1.0px;height:45.0px;background:#d6d6d6;"></div>
<div class="a" style="left:323.0px;top:894.0px;width:1.0px;height:45.0px;background:#d6d6d6;"></div>
<div class="a" style="left:349.0px;top:894.0px;width:1.0px;height:45.0px;background:#d6d6d6;"></div>
<div class="a" style="left:375.0px;top:894.0px;width:1.0px;height:45.0px;background:#d6d6d6;"></div>
<div class="a" style="left:401.0px;top:894.0px;width:1.0px;height:45.0px;background:#d6d6d6;"></div>
<div class="a" style="left:427.0px;top:894.0px;width:1.0px;height:45.0px;background:#d6d6d6;"></div>
<div class="a" style="left:454.0px;top:894.0px;width:1.0px;height:45.0px;background:#d6d6d6;"></div>
<div class="a" style="left:480.0px;top:894.0px;width:1.0px;height:45.0px;background:#d6d6d6;"></div>
<div class="t" style="left:16.9px;top:893px;height:15px;line-height:15px;font-size:7.5px;color:#3a3a40;">Dining out</div>
<div class="t" style="left:129.44px;top:892px;height:17px;line-height:17px;font-size:8.4px;color:#333338;transform:scaleX(0.720);transform-origin:left;">$</div>
<div class="t" style="left:-139.92px;top:892px;height:17px;line-height:17px;font-size:8.4px;color:#333338;text-align:right;transform:scaleX(0.860);transform-origin:right;">150</div>
<div class="t" style="left:169.44px;top:892px;height:17px;line-height:17px;font-size:8.4px;color:#333338;transform:scaleX(0.720);transform-origin:left;">$</div>
<div class="t" style="left:-99.92px;top:892px;height:17px;line-height:17px;font-size:8.4px;color:#333338;text-align:right;transform:scaleX(0.860);transform-origin:right;">150</div>
<div class="t" style="left:209.44px;top:892px;height:17px;line-height:17px;font-size:8.4px;color:#333338;transform:scaleX(0.720);transform-origin:left;">$</div>
<div class="t" style="left:-59.92px;top:892px;height:17px;line-height:17px;font-size:8.4px;color:#333338;text-align:right;transform:scaleX(0.860);transform-origin:right;">250</div>
<div class="t" style="left:485.44px;top:892px;height:17px;line-height:17px;font-size:8.4px;color:#333338;transform:scaleX(0.720);transform-origin:left;">$</div>
<div class="t" style="left:224.08px;top:892px;height:17px;line-height:17px;font-size:8.4px;color:#333338;text-align:right;transform:scaleX(0.860);transform-origin:right;">550</div>
<div class="t" style="left:17.12px;top:904px;height:15px;line-height:15px;font-size:7.5px;color:#3a3a40;">Coffee</div>
<div class="t" style="left:129.44px;top:903px;height:17px;line-height:17px;font-size:8.4px;color:#333338;transform:scaleX(0.720);transform-origin:left;">$</div>
<div class="t" style="left:-139.92px;top:903px;height:17px;line-height:17px;font-size:8.4px;color:#333338;text-align:right;transform:scaleX(0.860);transform-origin:right;">100</div>
<div class="t" style="left:169.44px;top:903px;height:17px;line-height:17px;font-size:8.4px;color:#333338;transform:scaleX(0.720);transform-origin:left;">$</div>
<div class="t" style="left:-99.89px;top:903px;height:17px;line-height:17px;font-size:8.4px;color:#333338;text-align:right;transform:scaleX(0.860);transform-origin:right;">75</div>
<div class="t" style="left:209.44px;top:903px;height:17px;line-height:17px;font-size:8.4px;color:#333338;transform:scaleX(0.720);transform-origin:left;">$</div>
<div class="t" style="left:-59.93px;top:903px;height:17px;line-height:17px;font-size:8.4px;color:#333338;text-align:right;transform:scaleX(0.860);transform-origin:right;">80</div>
<div class="t" style="left:485.44px;top:903px;height:17px;line-height:17px;font-size:8.4px;color:#333338;transform:scaleX(0.720);transform-origin:left;">$</div>
<div class="t" style="left:224.11px;top:903px;height:17px;line-height:17px;font-size:8.4px;color:#333338;text-align:right;transform:scaleX(0.860);transform-origin:right;">255</div>
<div class="t" style="left:17.35px;top:915px;height:15px;line-height:15px;font-size:7.5px;color:#3a3a40;">Takeout</div>
<div class="t" style="left:129.44px;top:914px;height:17px;line-height:17px;font-size:8.4px;color:#333338;transform:scaleX(0.720);transform-origin:left;">$</div>
<div class="t" style="left:-139.93px;top:914px;height:17px;line-height:17px;font-size:8.4px;color:#333338;text-align:right;transform:scaleX(0.860);transform-origin:right;">50</div>
<div class="t" style="left:485.44px;top:914px;height:17px;line-height:17px;font-size:8.4px;color:#333338;transform:scaleX(0.720);transform-origin:left;">$</div>
<div class="t" style="left:224.07px;top:914px;height:17px;line-height:17px;font-size:8.4px;color:#333338;text-align:right;transform:scaleX(0.860);transform-origin:right;">50</div>
<div class="t" style="left:17.39px;top:926px;height:15px;line-height:15px;font-size:7.5px;color:#3a3a40;">fast food</div>
<div class="t" style="left:129.44px;top:925px;height:17px;line-height:17px;font-size:8.4px;color:#333338;transform:scaleX(0.720);transform-origin:left;">$</div>
<div class="t" style="left:-139.89px;top:925px;height:17px;line-height:17px;font-size:8.4px;color:#333338;text-align:right;transform:scaleX(0.860);transform-origin:right;">15</div>
<div class="t" style="left:169.44px;top:925px;height:17px;line-height:17px;font-size:8.4px;color:#333338;transform:scaleX(0.720);transform-origin:left;">$</div>
<div class="t" style="left:-99.89px;top:925px;height:17px;line-height:17px;font-size:8.4px;color:#333338;text-align:right;transform:scaleX(0.860);transform-origin:right;">15</div>
<div class="t" style="left:209.44px;top:925px;height:17px;line-height:17px;font-size:8.4px;color:#333338;transform:scaleX(0.720);transform-origin:left;">$</div>
<div class="t" style="left:-59.89px;top:925px;height:17px;line-height:17px;font-size:8.4px;color:#333338;text-align:right;transform:scaleX(0.860);transform-origin:right;">25</div>
<div class="t" style="left:485.44px;top:925px;height:17px;line-height:17px;font-size:8.4px;color:#333338;transform:scaleX(0.720);transform-origin:left;">$</div>
<div class="t" style="left:224.11px;top:925px;height:17px;line-height:17px;font-size:8.4px;color:#333338;text-align:right;transform:scaleX(0.860);transform-origin:right;">55</div>
<div class="a" style="left:124.0px;top:939.0px;width:357.0px;height:1.0px;background:#fff;"></div>
<div class="a" style="left:124.0px;top:939.0px;width:1.0px;height:1.0px;background:#d6d6d6;"></div>
<div class="a" style="left:164.0px;top:939.0px;width:1.0px;height:1.0px;background:#d6d6d6;"></div>
<div class="a" style="left:204.0px;top:939.0px;width:1.0px;height:1.0px;background:#d6d6d6;"></div>
<div class="a" style="left:244.0px;top:939.0px;width:1.0px;height:1.0px;background:#d6d6d6;"></div>
<div class="a" style="left:271.0px;top:939.0px;width:1.0px;height:1.0px;background:#d6d6d6;"></div>
<div class="a" style="left:297.0px;top:939.0px;width:1.0px;height:1.0px;background:#d6d6d6;"></div>
<div class="a" style="left:323.0px;top:939.0px;width:1.0px;height:1.0px;background:#d6d6d6;"></div>
<div class="a" style="left:349.0px;top:939.0px;width:1.0px;height:1.0px;background:#d6d6d6;"></div>
<div class="a" style="left:375.0px;top:939.0px;width:1.0px;height:1.0px;background:#d6d6d6;"></div>
<div class="a" style="left:401.0px;top:939.0px;width:1.0px;height:1.0px;background:#d6d6d6;"></div>
<div class="a" style="left:427.0px;top:939.0px;width:1.0px;height:1.0px;background:#d6d6d6;"></div>
<div class="a" style="left:454.0px;top:939.0px;width:1.0px;height:1.0px;background:#d6d6d6;"></div>
<div class="a" style="left:480.0px;top:939.0px;width:1.0px;height:1.0px;background:#d6d6d6;"></div>
<div class="a" style="left:124px;top:125px;width:42px;height:12.5px;border:2px solid #1a1a1a;"></div>
<div class="a" style="left:162.5px;top:135.0px;width:4.0px;height:4.0px;background:#1a1a1a;outline:1px solid #fff;"></div>
<div class="a" style="left:146.9px;top:68.8px;width:221.2px;height:18.6px;border-radius:5px;background:rgba(55,55,58,0.65);filter:blur(0.5px);"></div>
<div class="a" style="left:144.3px;top:62.8px;width:221.2px;height:18.6px;border-radius:5px;background:linear-gradient(#f03a28,#fa5a44 60%,#ff6c54);box-shadow:inset 0 0 0 1px #e0301e;"></div>
<div class="t" style="left:151.87px;top:63px;height:20px;line-height:20px;font-size:9.9px;color:#ffffff;font-weight:bold;transform:scaleX(0.980);transform-origin:left;">Enter what you <i>actually</i> spend on this sheet.</div>
<div class="a" style="left:273.7px;top:172.8px;width:105px;height:33px;border-radius:5px;background:rgba(55,55,58,0.55);filter:blur(0.5px);"></div>
<div class="a" style="left:270.7px;top:167.3px;width:105px;height:33px;border-radius:5px;background:linear-gradient(#f03a28,#fa5a44 60%,#ff6c54);box-shadow:inset 0 0 0 1px #e0301e;"></div>
<div class="t" style="left:281.38px;top:170px;height:18px;line-height:18px;font-size:8.7px;color:#fff3ef;transform:scaleX(1.038);transform-origin:left;">Lets you know when</div>
<div class="t" style="left:273.83px;top:179px;height:18px;line-height:18px;font-size:8.7px;color:#fff3ef;transform:scaleX(1.026);transform-origin:left;">spending is over budget.</div>
<svg class="a" style="left:244px;top:178px" width="30" height="18"><path d="M27 5 L5 13" stroke="#c43a2c" stroke-width="1"/><path d="M1.5 14.5 L7 10.2 L8.3 13.8 Z" fill="#c43a2c"/></svg>
<svg class="a" style="left:237px;top:303px" width="9" height="97"><path d="M4.5 6 L4.5 93" stroke="#c43a2c" stroke-width="1"/><path d="M4.5 1.8 L1.8 7.5 L7.2 7.5 Z" fill="#c43a2c"/><path d="M4.5 94.5 L1.8 88.5 L7.2 88.5 Z" fill="#c43a2c"/></svg>
<div class="a" style="left:156.0px;top:344.8px;width:190.8px;height:18px;border-radius:5px;background:rgba(55,55,58,0.66);filter:blur(0.5px);"></div>
<div class="a" style="left:151.5px;top:338.8px;width:190.8px;height:18px;border-radius:5px;background:linear-gradient(#f03a28,#fa5a44 60%,#ff6c54);box-shadow:inset 0 0 0 1px #e0301e;"></div>
<div class="t" style="left:165.89px;top:339px;height:19px;line-height:19px;font-size:9.2px;color:#fff3ef;transform:scaleX(0.963);transform-origin:left;">Enter your actual spending for the month</div>
<div class="a" style="left:535px;top:107px;width:232px;height:140px;background:linear-gradient(#e6e2fc,#ebe8fc 45%,#faf9ff 85%,#ffffff);"></div>
<div class="a" style="left:535px;top:88px;width:232px;height:20px;border-radius:3px 3px 0 0;background:linear-gradient(#5485c5,#4878b8 30%,#3565a5 60%,#2a5594 88%,#1f4a88);"></div>
<div class="t" style="left:541.71px;top:87px;height:21px;line-height:21px;font-size:10.07px;color:#f4f7fc;transform:scaleX(0.930);transform-origin:left;">Tracking Summary</div>
<div class="t" style="left:674.95px;top:88px;height:20px;line-height:20px;font-size:9.6px;color:#f4f7fc;transform:scaleX(0.933);transform-origin:left;">Chart:</div>
<div class="a" style="left:701.4px;top:91.3px;width:63.6px;height:13.6px;background:#fff;"></div>
<div class="t" style="left:704.22px;top:91px;height:16px;line-height:16px;font-size:7.72px;color:#111;transform:scaleX(0.941);transform-origin:left;">March</div>
<div class="a" style="left:752.5px;top:91.3px;width:12.5px;height:13.6px;background:linear-gradient(#fbfbfd,#dedfe9);border:1px solid #7a98c6;border-radius:2px;"></div>
<svg class="a" style="left:755px;top:96px" width="8" height="5"><path d="M0 0 L7.5 0 L3.75 4 Z" fill="#111"/></svg>
<div class="a" style="left:594.3px;top:118.0px;width:1.0px;height:111.0px;background:#b8b8c2;"></div>
<div class="a" style="left:596.0px;top:122.6px;width:118.4px;height:27.4px;background:linear-gradient(#56a42b,#4a9425 50%,#418720);"></div>
<div class="a" style="left:596.0px;top:159.7px;width:108.8px;height:27.2px;background:linear-gradient(#6b9ac6,#5a86ba 45%,#44679f 85%,#3d5e97);"></div>
<div class="a" style="left:596.0px;top:196.2px;width:8.6px;height:28.0px;background:linear-gradient(#dc3a2c,#cc3024 50%,#a41e16);"></div>
<div class="t" style="left:552.56px;top:127px;height:20px;line-height:20px;font-size:9.8px;color:#4a5f93;font-weight:bold;">Income</div>
<div class="t" style="left:543.41px;top:163px;height:20px;line-height:20px;font-size:9.8px;color:#4a5f93;font-weight:bold;transform:scaleX(0.979);transform-origin:left;">Spending</div>
<div class="t" style="left:570.86px;top:200px;height:20px;line-height:20px;font-size:9.8px;color:#4a5f93;font-weight:bold;">Net</div>
<div class="t" style="left:721.45px;top:127px;height:20px;line-height:20px;font-size:9.6px;color:#3b8d1e;font-weight:bold;transform:scaleX(1.026);transform-origin:left;">$6,950</div>
<div class="t" style="left:711.25px;top:164px;height:20px;line-height:20px;font-size:9.6px;color:#5676aa;font-weight:bold;transform:scaleX(1.024);transform-origin:left;">$6,376</div>
<div class="t" style="left:611.76px;top:200px;height:20px;line-height:20px;font-size:9.6px;color:#9a1c14;font-weight:bold;transform:scaleX(0.983);transform-origin:left;">$574</div>
<div class="a" style="left:535px;top:275px;width:232px;height:195.5px;background:linear-gradient(#e6e2fc,#ebe8fc 40%,#f6f4fe 75%,#faf8fe);"></div>
<div class="a" style="left:535px;top:257.2px;width:232px;height:18px;border-radius:3px 3px 0 0;background:linear-gradient(#5485c5,#4878b8 30%,#3565a5 60%,#2a5594 88%,#1f4a88);"></div>
<div class="t" style="left:543.96px;top:256px;height:21px;line-height:21px;font-size:10.21px;color:#f4f7fc;transform:scaleX(0.955);transform-origin:left;">Spending by Month</div>
<svg class="a" style="left:565px;top:300px" width="202" height="115"><path d="M7.3 6.5 L197.6 6.5 L197.6 105.3 L7.3 105.3 Z" fill="#ebe9fc"/><path d="M4.5 12 L7.3 6.5 L7.3 105.3 L4.5 110 Z" fill="#e4e2f8"/><path d="M4.5 12.0 L7.3 6.7 L197.6 6.7" stroke="#fbfbff" stroke-width="1" fill="none"/><path d="M4.5 26.0 L7.3 20.8 L197.6 20.8" stroke="#fbfbff" stroke-width="1" fill="none"/><path d="M4.5 40.0 L7.3 34.9 L197.6 34.9" stroke="#fbfbff" stroke-width="1" fill="none"/><path d="M4.5 54.0 L7.3 48.9 L197.6 48.9" stroke="#fbfbff" stroke-width="1" fill="none"/><path d="M4.5 68.0 L7.3 63.0 L197.6 63.0" stroke="#fbfbff" stroke-width="1" fill="none"/><path d="M4.5 82.0 L7.3 77.1 L197.6 77.1" stroke="#fbfbff" stroke-width="1" fill="none"/><path d="M4.5 96.0 L7.3 91.2 L197.6 91.2" stroke="#fbfbff" stroke-width="1" fill="none"/><path d="M7.3 6.5 L197.6 6.5 L197.6 105.3" stroke="#f7f7ff" stroke-width="1" fill="none"/><path d="M4.2 110 L194 110 L197.6 105 L7.6 105 Z" fill="#a2a6b0"/><path d="M4.2 110.3 L194 110.3 L197.6 105.3" stroke="#4a4f58" stroke-width="1.3" fill="none"/></svg>
<div class="a" style="left:618.5px;top:405.0px;width:143.0px;height:1.6px;background:#3f8a1e;"></div>
<div class="a" style="left:618.0px;top:407.0px;width:140.0px;height:2.0px;background:#7290b4;"></div>
<div class="a" style="left:569.0px;top:409.5px;width:1.0px;height:2.5px;background:#4a4f58;"></div>
<div class="a" style="left:585.0px;top:409.5px;width:1.0px;height:2.5px;background:#4a4f58;"></div>
<div class="a" style="left:601.0px;top:409.5px;width:1.0px;height:2.5px;background:#4a4f58;"></div>
<div class="a" style="left:617.0px;top:409.5px;width:1.0px;height:2.5px;background:#4a4f58;"></div>
<div class="a" style="left:632.0px;top:409.5px;width:1.0px;height:2.5px;background:#4a4f58;"></div>
<div class="a" style="left:633.0px;top:405.0px;width:2.0px;height:4.0px;background:#a2a6b0;"></div>
<div class="a" style="left:648.0px;top:409.5px;width:1.0px;height:2.5px;background:#4a4f58;"></div>
<div class="a" style="left:649.0px;top:405.0px;width:2.0px;height:4.0px;background:#a2a6b0;"></div>
<div class="a" style="left:664.0px;top:409.5px;width:1.0px;height:2.5px;background:#4a4f58;"></div>
<div class="a" style="left:665.0px;top:405.0px;width:2.0px;height:4.0px;background:#a2a6b0;"></div>
<div class="a" style="left:680.0px;top:409.5px;width:1.0px;height:2.5px;background:#4a4f58;"></div>
<div class="a" style="left:681.0px;top:405.0px;width:2.0px;height:4.0px;background:#a2a6b0;"></div>
<div class="a" style="left:696.0px;top:409.5px;width:1.0px;height:2.5px;background:#4a4f58;"></div>
<div class="a" style="left:697.0px;top:405.0px;width:2.0px;height:4.0px;background:#a2a6b0;"></div>
<div class="a" style="left:711.0px;top:409.5px;width:1.0px;height:2.5px;background:#4a4f58;"></div>
<div class="a" style="left:712.0px;top:405.0px;width:2.0px;height:4.0px;background:#a2a6b0;"></div>
<div class="a" style="left:727.0px;top:409.5px;width:1.0px;height:2.5px;background:#4a4f58;"></div>
<div class="a" style="left:728.0px;top:405.0px;width:2.0px;height:4.0px;background:#a2a6b0;"></div>
<div class="a" style="left:743.0px;top:409.5px;width:1.0px;height:2.5px;background:#4a4f58;"></div>
<div class="a" style="left:744.0px;top:405.0px;width:2.0px;height:4.0px;background:#a2a6b0;"></div>
<div class="a" style="left:759.0px;top:409.5px;width:1.0px;height:2.5px;background:#4a4f58;"></div>
<div class="a" style="left:760.0px;top:405.0px;width:2.0px;height:4.0px;background:#a2a6b0;"></div>
<div class="a" style="left:573.0px;top:310.0px;width:12.7px;height:95.5px;background:linear-gradient(90deg,#41891f,#4c9527 50%,#3f861d);"></div>
<div class="a" style="left:572.0px;top:326.4px;width:12.0px;height:82.6px;background:linear-gradient(90deg,#5f86ae,#6990b9 50%,#5c82a9);"></div>
<div class="a" style="left:572.0px;top:326.4px;width:12.0px;height:2.5px;background:#83a3c4;"></div>
<div class="a" style="left:588.9px;top:309.8px;width:12.5px;height:95.7px;background:linear-gradient(90deg,#41891f,#4c9527 50%,#3f861d);"></div>
<div class="a" style="left:588.0px;top:329.9px;width:11.9px;height:79.1px;background:linear-gradient(90deg,#5f86ae,#6990b9 50%,#5c82a9);"></div>
<div class="a" style="left:588.0px;top:329.9px;width:11.9px;height:2.5px;background:#83a3c4;"></div>
<div class="a" style="left:604.8px;top:307.9px;width:12.7px;height:97.6px;background:linear-gradient(90deg,#41891f,#4c9527 50%,#3f861d);"></div>
<div class="a" style="left:603.9px;top:319.0px;width:11.9px;height:90.0px;background:linear-gradient(90deg,#5f86ae,#6990b9 50%,#5c82a9);"></div>
<div class="a" style="left:603.9px;top:319.0px;width:11.9px;height:2.5px;background:#83a3c4;"></div>
<div class="t" style="left:539.18px;top:303px;height:18px;line-height:18px;font-size:8.8px;color:#4f6fa6;font-weight:bold;transform:scaleX(0.911);transform-origin:left;">$7,000</div>
<div class="t" style="left:539.18px;top:317px;height:18px;line-height:18px;font-size:8.8px;color:#4f6fa6;font-weight:bold;transform:scaleX(0.911);transform-origin:left;">$6,000</div>
<div class="t" style="left:539.18px;top:330px;height:18px;line-height:18px;font-size:8.8px;color:#4f6fa6;font-weight:bold;transform:scaleX(0.911);transform-origin:left;">$5,000</div>
<div class="t" style="left:539.18px;top:344px;height:18px;line-height:18px;font-size:8.8px;color:#4f6fa6;font-weight:bold;transform:scaleX(0.911);transform-origin:left;">$4,000</div>
<div class="t" style="left:539.18px;top:358px;height:18px;line-height:18px;font-size:8.8px;color:#4f6fa6;font-weight:bold;transform:scaleX(0.911);transform-origin:left;">$3,000</div>
<div class="t" style="left:539.18px;top:372px;height:18px;line-height:18px;font-size:8.8px;color:#4f6fa6;font-weight:bold;transform:scaleX(0.911);transform-origin:left;">$2,000</div>
<div class="t" style="left:539.18px;top:386px;height:18px;line-height:18px;font-size:8.8px;color:#4f6fa6;font-weight:bold;transform:scaleX(0.911);transform-origin:left;">$1,000</div>
<div class="t" style="left:554.47px;top:400px;height:18px;line-height:18px;font-size:8.8px;color:#4f6fa6;font-weight:bold;transform:scaleX(0.948);transform-origin:left;">$0</div>
<div class="t" style="left:570.88px;top:410px;height:17px;line-height:17px;font-size:8.2px;color:#5574a8;font-weight:bold;">Jan</div>
<div class="t" style="left:601.3px;top:410px;height:17px;line-height:17px;font-size:8.2px;color:#5574a8;font-weight:bold;">Mar</div>
<div class="t" style="left:632.48px;top:410px;height:17px;line-height:17px;font-size:8.2px;color:#5574a8;font-weight:bold;">May</div>
<div class="t" style="left:666.55px;top:410px;height:17px;line-height:17px;font-size:8.2px;color:#5574a8;font-weight:bold;">Jul</div>
<div class="t" style="left:696.32px;top:410px;height:17px;line-height:17px;font-size:8.2px;color:#5574a8;font-weight:bold;">Sep</div>
<div class="t" style="left:727.4px;top:410px;height:17px;line-height:17px;font-size:8.2px;color:#5574a8;font-weight:bold;">Nov</div>
<div class="a" style="left:616.6px;top:446.5px;width:4.2px;height:4.2px;background:#5f86ae;"></div>
<div class="t" style="left:621.15px;top:441px;height:16px;line-height:16px;font-size:8.0px;color:#4a4a58;transform:scaleX(0.972);transform-origin:left;">Spending</div>
<div class="a" style="left:659.8px;top:446.5px;width:4.4px;height:4.2px;background:#3f8a1e;"></div>
<div class="t" style="left:664.5px;top:441px;height:16px;line-height:16px;font-size:8.0px;color:#6a4a80;transform:scaleX(0.968);transform-origin:left;">Income</div>
<div class="a" style="left:769.0px;top:57.0px;width:11.0px;height:883.0px;background:linear-gradient(90deg,#d9dfe8,#e3e8ef);border-left:1px solid #c8ced8;"></div>
<div class="a" style="left:769.5px;top:57.5px;width:10.5px;height:4px;background:#f6f7fa;border:1px solid #9aa2ae;border-radius:1px;"></div>
<svg class="a" style="left:771px;top:64px" width="7" height="5"><path d="M3.5 0 L7 4.5 L0 4.5 Z" fill="#3e444e"/></svg>
<div class="a" style="left:769.5px;top:84px;width:10px;height:144px;background:linear-gradient(90deg,#f7f8fa,#e4e8ee);border:1px solid #b4bac5;border-radius:2px;"></div>
<div class="a" style="left:772.0px;top:154.0px;width:5.0px;height:1.0px;background:#a3a9b4;"></div>
<div class="a" style="left:772.0px;top:156.0px;width:5.0px;height:1.0px;background:#a3a9b4;"></div>
<div class="a" style="left:772.0px;top:158.0px;width:5.0px;height:1.0px;background:#a3a9b4;"></div>
<svg class="a" style="left:771px;top:490.5px" width="7" height="5"><path d="M0 0 L7 0 L3.5 4.5 Z" fill="#3e444e"/></svg>
<div class="a" style="left:769.5px;top:498px;width:10.5px;height:4.5px;background:#f6f7fa;border:1px solid #8e96a2;border-radius:1px;"></div>
<svg class="a" style="left:771px;top:506px" width="7" height="5"><path d="M3.5 0 L7 4.5 L0 4.5 Z" fill="#3e444e"/></svg>
<div class="a" style="left:769.5px;top:660px;width:10px;height:144px;background:linear-gradient(90deg,#f7f8fa,#e4e8ee);border:1px solid #b4bac5;border-radius:2px;"></div>
<div class="a" style="left:772.0px;top:729.0px;width:5.0px;height:1.0px;background:#a3a9b4;"></div>
<div class="a" style="left:772.0px;top:731.0px;width:5.0px;height:1.0px;background:#a3a9b4;"></div>
<div class="a" style="left:772.0px;top:733.0px;width:5.0px;height:1.0px;background:#a3a9b4;"></div>
<svg class="a" style="left:771px;top:932px" width="7" height="5"><path d="M0 0 L7 0 L3.5 4.5 Z" fill="#3e444e"/></svg>
<div class="a" style="left:3.0px;top:940.0px;width:777.0px;height:11.0px;background:linear-gradient(#e2e6ed,#d8dde5);"></div>
<div class="a" style="left:3.0px;top:940.0px;width:777.0px;height:1.0px;background:#b7bdc7;"></div>
<svg class="a" style="left:0px;top:941px" width="46" height="9"><path d="M8 2 L8 7" stroke="#555" stroke-width="1"/><path d="M12 2 L8.7 4.5 L12 7 Z" fill="#555"/><path d="M21 2 L18 4.5 L21 7 Z" fill="#555"/><path d="M27.5 2 L30.5 4.5 L27.5 7 Z" fill="#555"/><path d="M37 2 L40 4.5 L37 7 Z" fill="#555"/><path d="M40.6 2 L40.6 7" stroke="#555" stroke-width="1"/></svg>
<div class="a" style="left:45.0px;top:941.0px;width:1.0px;height:9.0px;background:#aab0ba;"></div>
<div class="a" style="left:47px;top:940.5px;width:80px;height:8.8px;background:linear-gradient(#6c8ac4,#4b69a6 60%,#3f5d9a);clip-path:polygon(0px 100%,0px 100%,0px 0,80px 0,73px 100%);"></div>
<svg class="a" style="left:119px;top:940px" width="9" height="10"><path d="M1 9.5 L7.5 0.5" stroke="#e8ecf3" stroke-width="1"/></svg>
<div class="t" style="left:54.63px;top:936px;height:18px;line-height:18px;font-size:8.55px;color:#eef2fa;transform:scaleX(0.980);transform-origin:left;">Home&nbsp;&nbsp;Overview</div>
<div class="a" style="left:124px;top:940.5px;width:68px;height:8.8px;background:linear-gradient(#6c8ac4,#4b69a6 60%,#3f5d9a);clip-path:polygon(6px 100%,0px 100%,7px 0,68px 0,61px 100%);"></div>
<svg class="a" style="left:184px;top:940px" width="9" height="10"><path d="M1 9.5 L7.5 0.5" stroke="#e8ecf3" stroke-width="1"/></svg>
<div class="t" style="left:133.62px;top:936px;height:18px;line-height:18px;font-size:8.55px;color:#eef2fa;transform:scaleX(0.983);transform-origin:left;">Quick Budget</div>
<div class="a" style="left:189px;top:940.5px;width:93px;height:8.8px;background:linear-gradient(#6c8ac4,#4b69a6 60%,#3f5d9a);clip-path:polygon(6px 100%,0px 100%,7px 0,93px 0,86px 100%);"></div>
<svg class="a" style="left:274px;top:940px" width="9" height="10"><path d="M1 9.5 L7.5 0.5" stroke="#e8ecf3" stroke-width="1"/></svg>
<div class="t" style="left:198.75px;top:936px;height:18px;line-height:18px;font-size:8.55px;color:#eef2fa;transform:scaleX(1.096);transform-origin:left;">Budget By Month</div>
<div class="a" style="left:325px;top:940.5px;width:65px;height:8.8px;background:linear-gradient(#6c8ac4,#4b69a6 60%,#3f5d9a);clip-path:polygon(6px 100%,0px 100%,7px 0,65px 0,58px 100%);"></div>
<svg class="a" style="left:382px;top:940px" width="9" height="10"><path d="M1 9.5 L7.5 0.5" stroke="#e8ecf3" stroke-width="1"/></svg>
<div class="t" style="left:334.41px;top:936px;height:18px;line-height:18px;font-size:8.55px;color:#eef2fa;transform:scaleX(0.920);transform-origin:left;">Comparison</div>
<div class="a" style="left:386px;top:940.5px;width:77px;height:8.8px;background:linear-gradient(#6c8ac4,#4b69a6 60%,#3f5d9a);clip-path:polygon(6px 100%,0px 100%,7px 0,77px 0,70px 100%);"></div>
<svg class="a" style="left:455px;top:940px" width="9" height="10"><path d="M1 9.5 L7.5 0.5" stroke="#e8ecf3" stroke-width="1"/></svg>
<div class="t" style="left:395.65px;top:936px;height:18px;line-height:18px;font-size:8.55px;color:#eef2fa;transform:scaleX(0.955);transform-origin:left;">Daily Spending</div>
<div class="a" style="left:459px;top:940.5px;width:33px;height:8.8px;background:linear-gradient(#6c8ac4,#4b69a6 60%,#3f5d9a);clip-path:polygon(6px 100%,0px 100%,7px 0,33px 0,26px 100%);"></div>
<svg class="a" style="left:484px;top:940px" width="9" height="10"><path d="M1 9.5 L7.5 0.5" stroke="#e8ecf3" stroke-width="1"/></svg>
<div class="t" style="left:465.36px;top:936px;height:18px;line-height:18px;font-size:8.55px;color:#eef2fa;transform:scaleX(0.937);transform-origin:left;">Help</div>
<div class="a" style="left:278px;top:940px;width:51px;height:10px;background:#ffffff;clip-path:polygon(0 0,51px 0,44px 100%,0 100%);"></div>
<svg class="a" style="left:276px;top:940px" width="55" height="10"><path d="M3 0 L3 9.5 L45.5 9.5 L52.5 0" stroke="#8a919c" stroke-width="1" fill="none"/></svg>
<div class="t" style="left:284.91px;top:935px;height:20px;line-height:20px;font-size:9.66px;color:#111;font-weight:bold;transform:scaleX(0.898);transform-origin:left;">Tracking</div>
<div class="a" style="left:495.5px;top:941.5px;width:10px;height:8px;background:#f8f8f8;border:1px solid #9aa0aa;"></div>
<div class="a" style="left:497.0px;top:942.0px;width:3.0px;height:3.0px;background:#f0a030;border-radius:50%;"></div>
<div class="a" style="left:507.0px;top:941.0px;width:1.0px;height:9.0px;background:#8f96a1;"></div>
<svg class="a" style="left:512px;top:942.5px" width="4" height="7"><path d="M4 0 L0 3.2 L4 6.4 Z" fill="#333"/></svg>
<div class="a" style="left:519.5px;top:941px;width:99px;height:9px;background:linear-gradient(#f8f9fb,#e2e6ed);border:1px solid #a9b0bb;border-radius:2px;"></div>
<div class="a" style="left:566.0px;top:943.0px;width:1.0px;height:5.0px;background:#9ea5b0;"></div>
<div class="a" style="left:568.0px;top:943.0px;width:1.0px;height:5.0px;background:#9ea5b0;"></div>
<div class="a" style="left:570.0px;top:943.0px;width:1.0px;height:5.0px;background:#9ea5b0;"></div>
<svg class="a" style="left:757.3px;top:942.5px" width="4" height="7"><path d="M0 0 L4 3.2 L0 6.4 Z" fill="#333"/></svg>
<div class="a" style="left:765px;top:940px;width:4px;height:10.5px;border:1px solid #777;background:#fff;"></div>
<div class="a" style="left:3.0px;top:951.0px;width:777.0px;height:16.0px;background:linear-gradient(#e9ecf1,#dde1e8 50%,#d0d6df);"></div>
<div class="a" style="left:3.0px;top:951.0px;width:777.0px;height:1.0px;background:#c6ccd6;"></div>
<div class="a" style="left:649.0px;top:952.5px;width:1.0px;height:13.0px;background:#b3b9c3;"></div>
<div class="t" style="left:655.04px;top:949px;height:19px;line-height:19px;font-size:9.43px;color:#3a3a44;transform:scaleX(0.840);transform-origin:left;">95%</div>
<div class="a" style="left:677px;top:953.2px;width:10.4px;height:10.4px;border-radius:50%;border:1px solid #8a929e;background:linear-gradient(#fdfdfe,#dfe3ea);"></div>
<div class="a" style="left:679.2px;top:957.7px;width:6.0px;height:1.5px;background:#3a3a3a;"></div>
<div class="a" style="left:688.0px;top:958.0px;width:68.0px;height:1.0px;background:#9aa2ae;"></div>
<div class="a" style="left:717px;top:955px;width:5.8px;height:6.5px;background:linear-gradient(#fff,#d9dee6);border:1px solid #7f8894;border-radius:1px 1px 3px 3px;"></div>
<div class="a" style="left:756px;top:953px;width:10.4px;height:10.4px;border-radius:50%;border:1px solid #8a929e;background:linear-gradient(#fdfdfe,#dfe3ea);"></div>
<div class="a" style="left:758.2px;top:957.5px;width:6.0px;height:1.5px;background:#3a3a3a;"></div>
<div class="a" style="left:760.5px;top:955.2px;width:1.5px;height:6.0px;background:#3a3a3a;"></div>
<div class="a" style="left:777.0px;top:959.0px;width:1.0px;height:1.0px;background:#8a919c;"></div>
<div class="a" style="left:775.0px;top:961.0px;width:1.0px;height:1.0px;background:#8a919c;"></div>
<div class="a" style="left:777.0px;top:961.0px;width:1.0px;height:1.0px;background:#8a919c;"></div>
<div class="a" style="left:773.0px;top:963.0px;width:1.0px;height:1.0px;background:#8a919c;"></div>
<div class="a" style="left:775.0px;top:963.0px;width:1.0px;height:1.0px;background:#8a919c;"></div>
<div class="a" style="left:777.0px;top:963.0px;width:1.0px;height:1.0px;background:#8a919c;"></div>
<div class="a" style="left:0.0px;top:966.5px;width:783.0px;height:1.5px;background:#9aa1ac;"></div>
<div class="a" style="left:0.0px;top:968.0px;width:783.0px;height:2.0px;background:#f2f2f2;"></div>
</body></html>
